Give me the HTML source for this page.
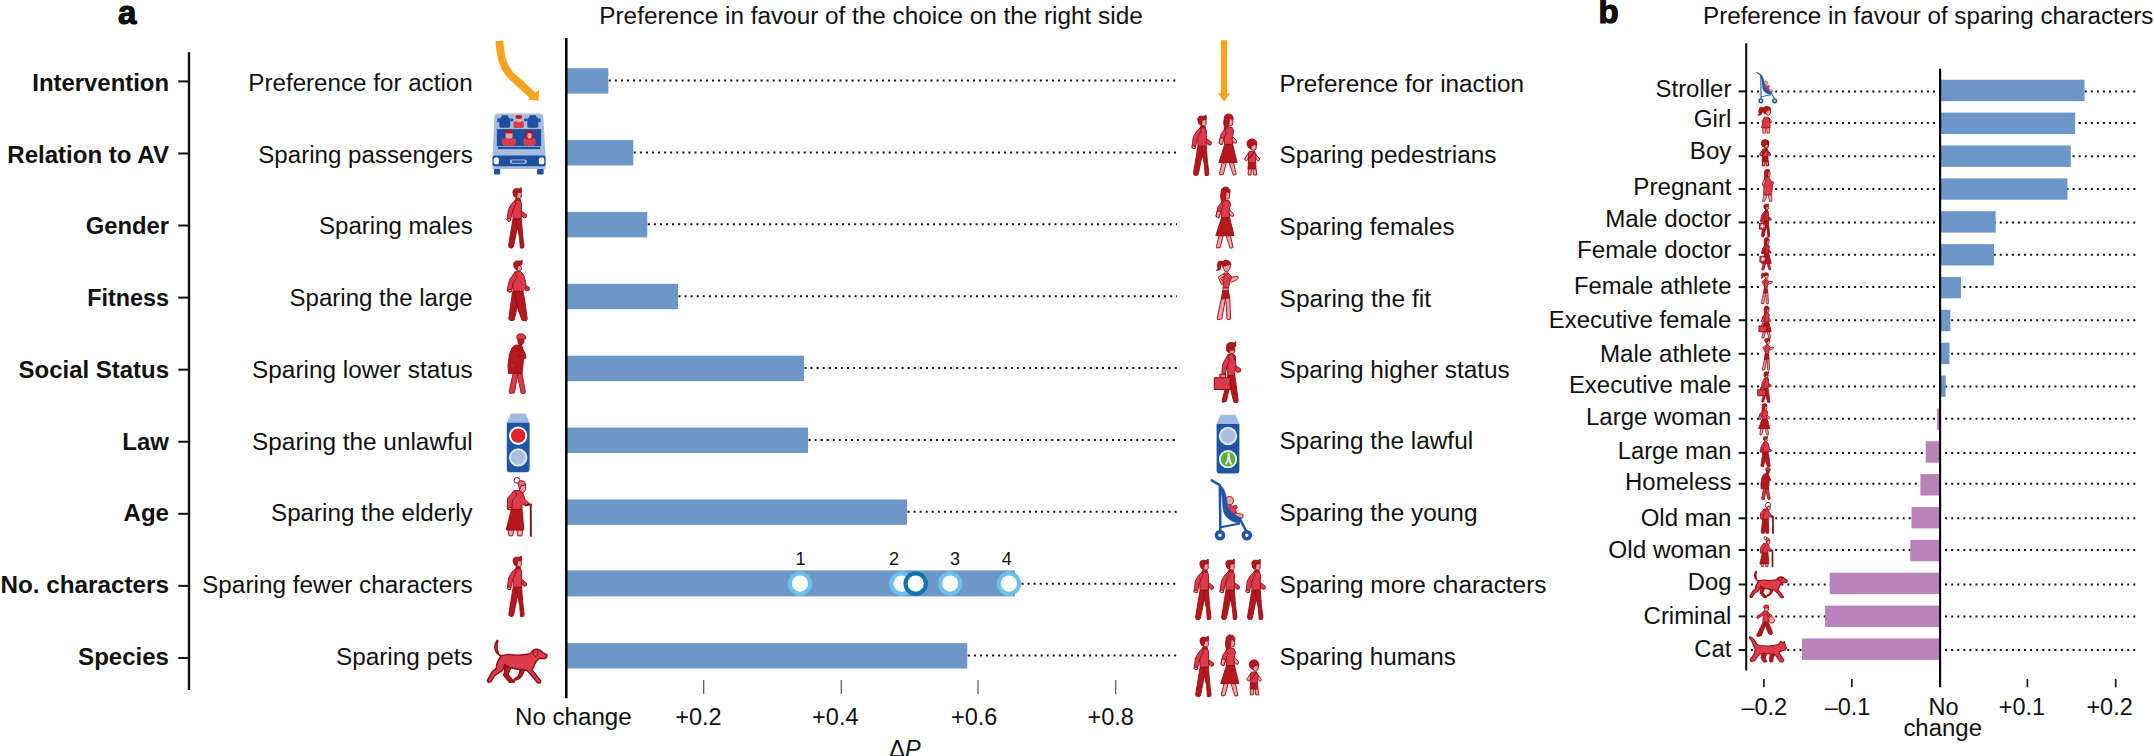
<!DOCTYPE html>
<html lang="en"><head><meta charset="utf-8"><title>Moral Machine preferences</title>
<style>html,body{margin:0;padding:0;background:#fff;}body{width:2154px;height:756px;overflow:hidden;font-family:"Liberation Sans",sans-serif;}svg{display:block}</style>
</head><body>
<svg width="2154" height="756" viewBox="0 0 2154 756" font-family="'Liberation Sans', sans-serif" fill="#111111"><text x="118.0" y="24.0" font-size="33" font-weight="bold" stroke="#000" stroke-width="1.1" stroke-linejoin="round">a</text>
<text x="599.3" y="24.0" font-size="23.5" textLength="543.4" lengthAdjust="spacingAndGlyphs">Preference in favour of the choice on the right side</text>
<rect x="567" y="68.20" width="41.30" height="25.4" fill="#6D97C8"/>
<line x1="608.80" y1="80.60" x2="1177.00" y2="80.60" stroke="#111" stroke-width="2" stroke-dasharray="2 4.07"/>
<line x1="178.3" y1="81.40" x2="189" y2="81.40" stroke="#111" stroke-width="2"/>
<text x="169.0" y="91.0" font-size="23.5" text-anchor="end" font-weight="bold" textLength="136.7" lengthAdjust="spacingAndGlyphs">Intervention</text>
<text x="472.7" y="91.0" font-size="23.5" text-anchor="end" textLength="224.4" lengthAdjust="spacingAndGlyphs">Preference for action</text>
<text x="1279.5" y="91.8" font-size="23.5" textLength="244.4" lengthAdjust="spacingAndGlyphs">Preference for inaction</text>
<rect x="567" y="140.07" width="66.30" height="25.4" fill="#6D97C8"/>
<line x1="633.80" y1="152.47" x2="1177.00" y2="152.47" stroke="#111" stroke-width="2" stroke-dasharray="2 4.07"/>
<line x1="178.3" y1="153.47" x2="189" y2="153.47" stroke="#111" stroke-width="2"/>
<text x="169.0" y="162.7" font-size="23.5" text-anchor="end" font-weight="bold" textLength="161.7" lengthAdjust="spacingAndGlyphs">Relation to AV</text>
<text x="472.7" y="162.7" font-size="23.5" text-anchor="end" textLength="214.4" lengthAdjust="spacingAndGlyphs">Sparing passengers</text>
<text x="1279.5" y="163.4" font-size="23.5" textLength="217.0" lengthAdjust="spacingAndGlyphs">Sparing pedestrians</text>
<rect x="567" y="211.94" width="80.30" height="25.4" fill="#6D97C8"/>
<line x1="647.80" y1="224.34" x2="1177.00" y2="224.34" stroke="#111" stroke-width="2" stroke-dasharray="2 4.07"/>
<line x1="178.3" y1="225.54" x2="189" y2="225.54" stroke="#111" stroke-width="2"/>
<text x="169.0" y="234.4" font-size="23.5" text-anchor="end" font-weight="bold" textLength="83.3" lengthAdjust="spacingAndGlyphs">Gender</text>
<text x="472.7" y="234.4" font-size="23.5" text-anchor="end" textLength="153.7" lengthAdjust="spacingAndGlyphs">Sparing males</text>
<text x="1279.5" y="235.0" font-size="23.5" textLength="175.0" lengthAdjust="spacingAndGlyphs">Sparing females</text>
<rect x="567" y="283.81" width="111.00" height="25.4" fill="#6D97C8"/>
<line x1="678.50" y1="296.21" x2="1177.00" y2="296.21" stroke="#111" stroke-width="2" stroke-dasharray="2 4.07"/>
<line x1="178.3" y1="297.61" x2="189" y2="297.61" stroke="#111" stroke-width="2"/>
<text x="169.0" y="306.1" font-size="23.5" text-anchor="end" font-weight="bold" textLength="81.8" lengthAdjust="spacingAndGlyphs">Fitness</text>
<text x="472.7" y="306.1" font-size="23.5" text-anchor="end" textLength="183.2" lengthAdjust="spacingAndGlyphs">Sparing the large</text>
<text x="1279.5" y="306.5" font-size="23.5" textLength="151.6" lengthAdjust="spacingAndGlyphs">Sparing the fit</text>
<rect x="567" y="355.68" width="237.00" height="25.4" fill="#6D97C8"/>
<line x1="804.50" y1="368.08" x2="1177.00" y2="368.08" stroke="#111" stroke-width="2" stroke-dasharray="2 4.07"/>
<line x1="178.3" y1="369.68" x2="189" y2="369.68" stroke="#111" stroke-width="2"/>
<text x="169.0" y="377.8" font-size="23.5" text-anchor="end" font-weight="bold" textLength="150.4" lengthAdjust="spacingAndGlyphs">Social Status</text>
<text x="472.7" y="377.8" font-size="23.5" text-anchor="end" textLength="220.6" lengthAdjust="spacingAndGlyphs">Sparing lower status</text>
<text x="1279.5" y="378.1" font-size="23.5" textLength="230.3" lengthAdjust="spacingAndGlyphs">Sparing higher status</text>
<rect x="567" y="427.55" width="241.00" height="25.4" fill="#6D97C8"/>
<line x1="808.50" y1="439.95" x2="1177.00" y2="439.95" stroke="#111" stroke-width="2" stroke-dasharray="2 4.07"/>
<line x1="178.3" y1="441.75" x2="189" y2="441.75" stroke="#111" stroke-width="2"/>
<text x="169.0" y="449.5" font-size="23.5" text-anchor="end" font-weight="bold" textLength="46.7" lengthAdjust="spacingAndGlyphs">Law</text>
<text x="472.7" y="449.5" font-size="23.5" text-anchor="end" textLength="220.6" lengthAdjust="spacingAndGlyphs">Sparing the unlawful</text>
<text x="1279.5" y="448.8" font-size="23.5" textLength="193.6" lengthAdjust="spacingAndGlyphs">Sparing the lawful</text>
<rect x="567" y="499.42" width="340.00" height="25.4" fill="#6D97C8"/>
<line x1="907.50" y1="511.82" x2="1177.00" y2="511.82" stroke="#111" stroke-width="2" stroke-dasharray="2 4.07"/>
<line x1="178.3" y1="513.82" x2="189" y2="513.82" stroke="#111" stroke-width="2"/>
<text x="169.0" y="521.2" font-size="23.5" text-anchor="end" font-weight="bold" textLength="45.4" lengthAdjust="spacingAndGlyphs">Age</text>
<text x="472.7" y="521.2" font-size="23.5" text-anchor="end" textLength="201.7" lengthAdjust="spacingAndGlyphs">Sparing the elderly</text>
<text x="1279.5" y="521.0" font-size="23.5" textLength="198.0" lengthAdjust="spacingAndGlyphs">Sparing the young</text>
<rect x="567" y="570.4" width="447.90" height="26" fill="#6D97C8"/>
<line x1="1021.50" y1="583.69" x2="1177.00" y2="583.69" stroke="#111" stroke-width="2" stroke-dasharray="2 4.07"/>
<line x1="178.3" y1="585.89" x2="189" y2="585.89" stroke="#111" stroke-width="2"/>
<text x="169.0" y="592.9" font-size="23.5" text-anchor="end" font-weight="bold" textLength="168.5" lengthAdjust="spacingAndGlyphs">No. characters</text>
<text x="472.7" y="592.9" font-size="23.5" text-anchor="end" textLength="270.6" lengthAdjust="spacingAndGlyphs">Sparing fewer characters</text>
<text x="1279.5" y="593.3" font-size="23.5" textLength="267.0" lengthAdjust="spacingAndGlyphs">Sparing more characters</text>
<rect x="567" y="643.16" width="400.30" height="25.4" fill="#6D97C8"/>
<line x1="967.80" y1="655.56" x2="1177.00" y2="655.56" stroke="#111" stroke-width="2" stroke-dasharray="2 4.07"/>
<line x1="178.3" y1="657.96" x2="189" y2="657.96" stroke="#111" stroke-width="2"/>
<text x="169.0" y="664.6" font-size="23.5" text-anchor="end" font-weight="bold" textLength="90.9" lengthAdjust="spacingAndGlyphs">Species</text>
<text x="472.7" y="664.6" font-size="23.5" text-anchor="end" textLength="136.8" lengthAdjust="spacingAndGlyphs">Sparing pets</text>
<text x="1279.5" y="664.5" font-size="23.5" textLength="176.4" lengthAdjust="spacingAndGlyphs">Sparing humans</text>
<line x1="189" y1="52.3" x2="189" y2="690" stroke="#111" stroke-width="2.4"/>
<line x1="566.3" y1="38" x2="566.3" y2="698.3" stroke="#000" stroke-width="2.5"/>
<line x1="703.7" y1="680" x2="703.7" y2="694" stroke="#555" stroke-width="1.2"/>
<line x1="841.3" y1="680" x2="841.3" y2="694" stroke="#555" stroke-width="1.2"/>
<line x1="978" y1="680" x2="978" y2="694" stroke="#555" stroke-width="1.2"/>
<line x1="1115.7" y1="680" x2="1115.7" y2="694" stroke="#555" stroke-width="1.2"/>
<text x="515.0" y="725.0" font-size="23.5" textLength="116.7" lengthAdjust="spacingAndGlyphs">No change</text>
<text x="698.5" y="725.0" font-size="23.5" text-anchor="middle">+0.2</text>
<text x="835.3" y="725.0" font-size="23.5" text-anchor="middle">+0.4</text>
<text x="974.2" y="725.0" font-size="23.5" text-anchor="middle">+0.6</text>
<text x="1110.7" y="725.0" font-size="23.5" text-anchor="middle">+0.8</text>
<text x="889.3" y="757" font-size="23.5">Δ<tspan font-style="italic">P</tspan></text>
<circle cx="800" cy="583.6" r="10.2" fill="#fff" stroke="#6CC0EA" stroke-width="4.2"/>
<circle cx="901.6" cy="583.6" r="10.2" fill="#fff" stroke="#6CC0EA" stroke-width="4.2"/>
<circle cx="950.1" cy="583.6" r="10.2" fill="#fff" stroke="#6CC0EA" stroke-width="4.2"/>
<circle cx="1008.9" cy="583.6" r="10.2" fill="#fff" stroke="#6CC0EA" stroke-width="4.2"/>
<circle cx="915.7" cy="583.6" r="10.2" fill="#fff" stroke="#0F74B0" stroke-width="4.2"/>
<text x="800.4" y="564.8" font-size="18" text-anchor="middle">1</text>
<text x="894.1" y="564.8" font-size="18" text-anchor="middle">2</text>
<text x="955.0" y="564.8" font-size="18" text-anchor="middle">3</text>
<text x="1006.8" y="564.8" font-size="18" text-anchor="middle">4</text>
<path d="M499.4,40.9 C500.3,58 503.5,70 515.7,79.8 L533,95.6" fill="none" stroke="#F9A21C" stroke-width="7.8"/>
<path d="M539,89.8 L538.7,100.8 L527.8,99.6 Z" fill="#F9A21C"/>
<rect x="1220.9" y="40.2" width="6.2" height="54" fill="#F9A21C"/>
<path d="M1218,93.6 L1230.2,93.6 L1224.1,101.6 Z" fill="#F9A21C"/>
<g transform="translate(492.10,113.20) scale(1.0)"><path d="M5.24,0.29 Q2.38,0.67 2.19,5.24 L0.48,42.38 L0.48,55.71 L53.43,55.71 L53.43,42.38 L51.33,5.24 Q51.14,0.67 48.29,0.29 Z" fill="#A6BDE1"/><rect x="7.14" y="4.29" width="10.95" height="10.29" rx="1.71" fill="#1E4F9E"/><rect x="9.24" y="2.00" width="6.95" height="5.14" rx="1.33" fill="#1E4F9E"/><rect x="35.24" y="4.29" width="10.95" height="10.29" rx="1.71" fill="#1E4F9E"/><rect x="37.24" y="2.00" width="7.05" height="5.14" rx="1.33" fill="#1E4F9E"/><rect x="5.05" y="5.24" width="2.10" height="3.81" rx="0.38" fill="#1E4F9E"/><rect x="46.19" y="5.24" width="2.29" height="3.81" rx="0.38" fill="#1E4F9E"/><rect x="18.38" y="5.24" width="2.67" height="2.86" rx="0.29" fill="#1E4F9E"/><rect x="32.10" y="5.24" width="2.86" height="2.86" rx="0.29" fill="#1E4F9E"/><rect x="21.43" y="8.10" width="10.29" height="6.67" rx="1.52" fill="#DB3B4B"/><rect x="23.90" y="2.38" width="5.52" height="6.67" rx="1.90" fill="#F3A2A7"/><rect x="23.52" y="2.00" width="6.29" height="3.43" rx="1.33" fill="#B4171C"/><rect x="4.76" y="15.90" width="44.29" height="16.95" rx="0.00" fill="#1E4F9E"/><rect x="10.00" y="25.05" width="13.90" height="7.43" rx="2.10" fill="#DB3B4B"/><rect x="13.43" y="17.62" width="7.05" height="7.62" rx="2.29" fill="#F3A2A7"/><rect x="13.05" y="16.86" width="7.81" height="3.43" rx="1.14" fill="#B4171C"/><rect x="31.33" y="25.05" width="12.19" height="7.43" rx="2.10" fill="#DB3B4B"/><rect x="33.62" y="17.24" width="7.62" height="8.95" rx="2.86" fill="#B4171C"/><rect x="35.33" y="19.71" width="4.19" height="5.71" rx="1.71" fill="#F3A2A7"/><rect x="5.71" y="33.62" width="42.38" height="2.29" rx="0.00" fill="#1E4F9E"/><rect x="0.48" y="42.19" width="52.95" height="10.86" rx="2.10" fill="#1E4F9E"/><rect x="1.62" y="44.29" width="5.14" height="6.86" rx="1.90" fill="#F2F5FA"/><rect x="46.76" y="44.29" width="5.33" height="6.86" rx="1.90" fill="#F2F5FA"/><rect x="17.81" y="46.19" width="16.95" height="4.38" rx="2.10" fill="#A6BDE1"/><rect x="19.71" y="47.33" width="13.14" height="2.10" rx="0.95" fill="#1E4F9E"/><rect x="1.90" y="55.71" width="6.19" height="5.71" rx="0.76" fill="#1E4F9E"/><rect x="45.05" y="55.71" width="6.48" height="5.71" rx="0.76" fill="#1E4F9E"/></g>
<g transform="translate(506.80,413.50)"><path d="M4,0 L18.8,0 L22.8,9.4 L0,9.4 Z" fill="#9FB9E0"/><path d="M0,9.3 L22.8,9.3 L22.8,55.5 Q22.8,58.8 19.5,58.8 L3.3,58.8 Q0,58.8 0,55.5 Z" fill="#1F55A2"/><circle cx="11.4" cy="22.2" r="8.2" fill="#E0242B" stroke="#fff" stroke-width="2"/><circle cx="11.4" cy="44" r="8.2" fill="#A9BEE0" stroke="#DCE5F3" stroke-width="2"/></g>
<g transform="translate(1216.60,414.70)"><path d="M4,0 L18.8,0 L22.8,9.4 L0,9.4 Z" fill="#9FB9E0"/><path d="M0,9.3 L22.8,9.3 L22.8,55.5 Q22.8,58.8 19.5,58.8 L3.3,58.8 Q0,58.8 0,55.5 Z" fill="#1F55A2"/><circle cx="11.4" cy="21.2" r="8.2" fill="#A9BEE0" stroke="#DCE5F3" stroke-width="2"/><circle cx="11.4" cy="44.5" r="8.2" fill="#5BAA3C" stroke="#E6F2DF" stroke-width="1.8"/><circle cx="12" cy="39.8" r="1.5" fill="#fff"/><path d="M11,41.5 L13.4,41.5 L13.8,45 L15.6,49.6 L14,50 L12,46.4 L10,50 L8.4,49.4 L10.4,45 Z" fill="#fff"/></g>
<g transform="translate(506.80,187.50) scale(1.0000)"><path d="M6.15,31.55 L12.30,31.55 L6.55,59.52 L5.16,60.71 L2.38,60.12 L1.79,58.13 Z" fill="#B4171C" stroke="#930C12" stroke-width="0.90" stroke-linejoin="round" /><path d="M9.33,31.55 L14.58,31.25 L15.67,45.63 L17.16,58.53 L16.37,60.62 L13.49,60.62 L12.70,49.60 L10.52,39.68 Z" fill="#B4171C" stroke="#930C12" stroke-width="0.90" stroke-linejoin="round" /><path d="M8.33,13.10 L13.59,12.50 L14.68,16.07 L14.68,30.95 L6.15,31.35 L5.95,22.82 Z" fill="#DB3B4B" stroke="#930C12" stroke-width="0.90" stroke-linejoin="round" /><path d="M8.33,13.10 L4.96,16.07 L1.59,22.02 L0.20,32.54 L1.39,33.73 L3.57,33.33 L5.95,22.82 L9.13,16.07 Z" fill="#DB3B4B" stroke="#930C12" stroke-width="0.90" stroke-linejoin="round" /><path d="M0.20,32.14 L1.59,33.73 L3.57,33.33 L3.77,31.55 L0.79,30.95 Z" fill="#F3A2A7" stroke="#930C12" stroke-width="0.90" stroke-linejoin="round" /><path d="M14.68,23.61 L19.64,27.18 L19.44,29.76 L17.06,30.36 L14.68,27.98 Z" fill="#DB3B4B" stroke="#930C12" stroke-width="0.90" stroke-linejoin="round" /><path d="M9.13,10.32 L13.10,10.32 L13.69,12.90 L8.13,13.29 Z" fill="#B4171C" stroke="#930C12" stroke-width="0.50" stroke-linejoin="round" /><path d="M6.55,2.48 L8.33,1.29 L12.90,1.29 L14.29,0.00 L14.68,3.17 L14.29,4.96 L10.52,4.96 L9.92,9.92 L7.34,9.13 L6.05,4.96 Z" fill="#B4171C" stroke="#930C12" stroke-width="0.90" stroke-linejoin="round" /><path d="M10.52,4.96 L14.29,4.76 L14.48,9.52 L12.90,10.91 L9.92,10.71 L9.92,9.92 Z" fill="#F3A2A7" stroke="#930C12" stroke-width="0.90" stroke-linejoin="round" /></g>
<g transform="translate(506.70,260.10) scale(1.0000)"><path d="M6.02,31.20 L13.89,31.20 L7.59,59.72 L6.48,60.46 L3.33,60.28 L2.04,58.80 L4.26,43.06 Z" fill="#B4171C" stroke="#930C12" stroke-width="0.90" stroke-linejoin="round" /><path d="M7.59,31.20 L16.20,31.02 L17.78,38.43 L20.56,58.80 L19.63,60.65 L15.37,60.28 L11.48,49.54 Z" fill="#B4171C" stroke="#930C12" stroke-width="0.90" stroke-linejoin="round" /><path d="M8.33,11.76 L13.89,11.39 L16.85,14.54 L19.07,22.69 L18.70,28.24 L15.93,31.20 L6.48,31.20 L6.02,25.46 L6.94,18.98 Z" fill="#DB3B4B" stroke="#930C12" stroke-width="0.90" stroke-linejoin="round" /><path d="M8.33,11.76 L2.78,19.91 L0.37,30.65 L3.15,32.13 L4.81,31.20 L6.48,22.69 L10.37,17.13 Z" fill="#DB3B4B" stroke="#930C12" stroke-width="0.90" stroke-linejoin="round" /><path d="M0.56,29.91 L3.15,32.13 L5.00,31.20 L4.81,29.35 Z" fill="#F3A2A7" stroke="#930C12" stroke-width="0.90" stroke-linejoin="round" /><path d="M18.98,25.28 L22.78,27.31 L22.41,30.09 L19.07,30.65 Z" fill="#DB3B4B" stroke="#930C12" stroke-width="0.90" stroke-linejoin="round" /><path d="M7.87,1.85 L9.72,0.93 L13.89,0.93 L15.37,0.00 L15.37,3.80 L13.89,5.09 L11.11,5.65 L10.19,9.72 L7.59,7.87 L6.94,4.17 Z" fill="#B4171C" stroke="#930C12" stroke-width="0.90" stroke-linejoin="round" /><path d="M11.11,5.65 L13.89,5.09 L15.00,8.80 L13.15,10.83 L10.19,10.83 L10.19,9.72 Z" fill="#F3A2A7" stroke="#930C12" stroke-width="0.90" stroke-linejoin="round" /></g>
<g transform="translate(507.80,333.60) scale(1.0000)"><path d="M5.37,39.44 L10.19,38.70 L6.67,59.26 L2.22,59.81 L1.30,58.33 Z" fill="#DB3B4B" stroke="#930C12" stroke-width="0.90" stroke-linejoin="round" /><path d="M9.07,39.44 L14.26,40.56 L17.59,58.33 L16.67,60.28 L13.33,59.44 Z" fill="#DB3B4B" stroke="#930C12" stroke-width="0.90" stroke-linejoin="round" /><path d="M10.00,5.74 L16.11,5.37 L15.93,9.26 L13.89,11.30 L10.56,10.37 Z" fill="#B4171C" stroke="#930C12" stroke-width="0.90" stroke-linejoin="round" /><path d="M9.54,1.48 L11.85,0.19 L15.56,0.46 L17.50,2.41 L17.96,5.19 L10.00,5.83 L8.89,4.63 Z" fill="#DB3B4B" stroke="#930C12" stroke-width="0.90" stroke-linejoin="round" /><path d="M7.22,11.67 L13.70,11.11 L15.19,15.74 L17.96,21.30 L17.96,24.63 L15.56,25.56 L15.19,31.48 L14.26,40.74 L10.00,39.07 L5.37,40.00 L0.74,40.00 L0.19,31.48 L1.67,20.37 L4.07,14.44 Z" fill="#B4171C" stroke="#930C12" stroke-width="0.90" stroke-linejoin="round" /><path d="M10.00,22.22 L12.78,21.30 L12.41,24.07" fill="none" stroke="#930C12" stroke-width="0.80" stroke-linejoin="round" /><path d="M3.70,31.48 L5.37,31.85 L4.26,33.70 Z" fill="#F3A2A7" stroke="#930C12" stroke-width="0.50" stroke-linejoin="round" /></g>
<g transform="translate(506.20,477.10) scale(1.0000)"><path d="M1.94,52.78 L7.50,52.78 L6.57,58.80 L2.87,58.80 Z" fill="#F3A2A7" stroke="#930C12" stroke-width="0.90" stroke-linejoin="round" /><path d="M10.65,52.78 L16.20,52.78 L15.83,58.80 L11.57,58.80 Z" fill="#F3A2A7" stroke="#930C12" stroke-width="0.90" stroke-linejoin="round" /><path d="M5.09,32.41 L15.83,31.94 L17.69,52.87 L0.00,52.87 Z" fill="#B4171C" stroke="#930C12" stroke-width="0.90" stroke-linejoin="round" /><path d="M7.87,13.43 L13.43,13.43 L16.76,16.20 L18.98,22.69 L23.80,26.94 L19.17,28.80 L15.83,26.39 L15.83,32.13 L5.09,32.50 L6.02,23.61 Z" fill="#DB3B4B" stroke="#930C12" stroke-width="0.90" stroke-linejoin="round" /><path d="M7.87,13.43 L1.39,21.39 L1.02,31.94 L3.80,32.96 L5.65,31.94 L6.02,23.61 L10.83,18.06 Z" fill="#DB3B4B" stroke="#930C12" stroke-width="0.90" stroke-linejoin="round" /><path d="M1.20,31.20 L3.80,32.96 L5.65,31.94 L5.28,30.46 Z" fill="#F3A2A7" stroke="#930C12" stroke-width="0.90" stroke-linejoin="round" /><path d="M11.57,6.20 L14.35,3.43 L18.06,4.17 L19.54,7.87 L14.54,8.98 L13.61,12.69 Z" fill="#E2677A" stroke="#930C12" stroke-width="0.90" stroke-linejoin="round" /><path d="M14.54,8.98 L19.17,7.87 L19.54,12.50 L17.13,15.83 L13.43,13.61 Z" fill="#F3A2A7" stroke="#930C12" stroke-width="0.90" stroke-linejoin="round" /><circle cx="10.65" cy="3.24" r="2.78" fill="#FFFFFF" stroke="#930C12" stroke-width="1.00"/><path d="M18.98,28.06 L25.65,27.31" fill="none" stroke="#7A1216" stroke-width="1.90" stroke-linejoin="round" /><path d="M24.54,27.31 L24.72,59.72" fill="none" stroke="#7A1216" stroke-width="1.90" stroke-linejoin="round" /></g>
<g transform="translate(507.00,555.90) scale(1.0000)"><path d="M6.15,31.55 L12.30,31.55 L6.55,59.52 L5.16,60.71 L2.38,60.12 L1.79,58.13 Z" fill="#B4171C" stroke="#930C12" stroke-width="0.90" stroke-linejoin="round" /><path d="M9.33,31.55 L14.58,31.25 L15.67,45.63 L17.16,58.53 L16.37,60.62 L13.49,60.62 L12.70,49.60 L10.52,39.68 Z" fill="#B4171C" stroke="#930C12" stroke-width="0.90" stroke-linejoin="round" /><path d="M8.33,13.10 L13.59,12.50 L14.68,16.07 L14.68,30.95 L6.15,31.35 L5.95,22.82 Z" fill="#DB3B4B" stroke="#930C12" stroke-width="0.90" stroke-linejoin="round" /><path d="M8.33,13.10 L4.96,16.07 L1.59,22.02 L0.20,32.54 L1.39,33.73 L3.57,33.33 L5.95,22.82 L9.13,16.07 Z" fill="#DB3B4B" stroke="#930C12" stroke-width="0.90" stroke-linejoin="round" /><path d="M0.20,32.14 L1.59,33.73 L3.57,33.33 L3.77,31.55 L0.79,30.95 Z" fill="#F3A2A7" stroke="#930C12" stroke-width="0.90" stroke-linejoin="round" /><path d="M14.68,23.61 L19.64,27.18 L19.44,29.76 L17.06,30.36 L14.68,27.98 Z" fill="#DB3B4B" stroke="#930C12" stroke-width="0.90" stroke-linejoin="round" /><path d="M9.13,10.32 L13.10,10.32 L13.69,12.90 L8.13,13.29 Z" fill="#B4171C" stroke="#930C12" stroke-width="0.50" stroke-linejoin="round" /><path d="M6.55,2.48 L8.33,1.29 L12.90,1.29 L14.29,0.00 L14.68,3.17 L14.29,4.96 L10.52,4.96 L9.92,9.92 L7.34,9.13 L6.05,4.96 Z" fill="#B4171C" stroke="#930C12" stroke-width="0.90" stroke-linejoin="round" /><path d="M10.52,4.96 L14.29,4.76 L14.48,9.52 L12.90,10.91 L9.92,10.71 L9.92,9.92 Z" fill="#F3A2A7" stroke="#930C12" stroke-width="0.90" stroke-linejoin="round" /></g>
<g transform="translate(487.30,640.10) scale(1.0000)"><path d="M 17.45,24.00 L 24.00,27.64 C 21.82,31.27 20.73,33.45 21.09,34.76 L 25.60,40.15 L 25.31,42.18 L 22.11,42.33 L 16.15,35.05 C 17.82,31.27 17.45,27.64 16.73,24.73 Z" fill="#B4171C" stroke="#930C12" stroke-width="1.12" stroke-linejoin="round" /><path d="M 32.00,29.09 L 37.09,30.11 C 35.64,34.18 34.18,37.09 32.00,38.55 L 27.49,40.44 L 26.91,42.33 L 25.60,41.45 L 26.91,38.98 C 30.55,37.09 32.36,34.18 32.58,31.27 Z" fill="#B4171C" stroke="#930C12" stroke-width="1.12" stroke-linejoin="round" /><path d="M 10.04,0.15 C 6.40,4.36 6.25,11.05 11.78,14.84 C 14.55,16.44 16.73,14.40 21.82,14.25 C 26.91,15.27 33.45,15.64 42.91,13.67 C 44.73,10.55 46.91,8.73 50.18,9.16 C 53.09,9.82 54.55,11.27 56.00,12.80 L 59.64,14.69 C 60.36,16.73 58.55,18.55 56.73,18.62 L 52.51,18.18 C 50.18,18.91 48.15,21.67 46.69,26.18 L 44.65,29.67 L 53.53,40.73 L 53.09,42.62 L 50.18,42.62 L 43.64,34.62 L 39.27,30.25 C 34.91,29.82 27.64,28.51 23.27,27.64 L 17.31,24.15 C 16.73,26.91 15.27,30.55 13.67,31.42 L 7.27,35.64 L 3.64,41.60 L 1.02,42.33 L 0.00,40.44 L 5.09,31.27 L 8.87,28.51 C 9.09,24.00 10.91,19.64 13.53,16.44 C 9.89,13.96 8.87,7.27 10.62,0.58 Z" fill="#DB3B4B" stroke="#930C12" stroke-width="1.38" stroke-linejoin="round" /><path d="M 46.55,10.55 C 45.09,13.09 45.82,16.00 48.73,16.73 C 50.55,15.27 50.91,12.36 50.18,10.55" fill="none" stroke="#930C12" stroke-width="1.00" stroke-linejoin="round" /></g>
<g transform="translate(1191.70,114.90) scale(1.0000)"><path d="M6.15,31.55 L12.30,31.55 L6.55,59.52 L5.16,60.71 L2.38,60.12 L1.79,58.13 Z" fill="#B4171C" stroke="#930C12" stroke-width="0.90" stroke-linejoin="round" /><path d="M9.33,31.55 L14.58,31.25 L15.67,45.63 L17.16,58.53 L16.37,60.62 L13.49,60.62 L12.70,49.60 L10.52,39.68 Z" fill="#B4171C" stroke="#930C12" stroke-width="0.90" stroke-linejoin="round" /><path d="M8.33,13.10 L13.59,12.50 L14.68,16.07 L14.68,30.95 L6.15,31.35 L5.95,22.82 Z" fill="#DB3B4B" stroke="#930C12" stroke-width="0.90" stroke-linejoin="round" /><path d="M8.33,13.10 L4.96,16.07 L1.59,22.02 L0.20,32.54 L1.39,33.73 L3.57,33.33 L5.95,22.82 L9.13,16.07 Z" fill="#DB3B4B" stroke="#930C12" stroke-width="0.90" stroke-linejoin="round" /><path d="M0.20,32.14 L1.59,33.73 L3.57,33.33 L3.77,31.55 L0.79,30.95 Z" fill="#F3A2A7" stroke="#930C12" stroke-width="0.90" stroke-linejoin="round" /><path d="M14.68,23.61 L19.64,27.18 L19.44,29.76 L17.06,30.36 L14.68,27.98 Z" fill="#DB3B4B" stroke="#930C12" stroke-width="0.90" stroke-linejoin="round" /><path d="M9.13,10.32 L13.10,10.32 L13.69,12.90 L8.13,13.29 Z" fill="#B4171C" stroke="#930C12" stroke-width="0.50" stroke-linejoin="round" /><path d="M6.55,2.48 L8.33,1.29 L12.90,1.29 L14.29,0.00 L14.68,3.17 L14.29,4.96 L10.52,4.96 L9.92,9.92 L7.34,9.13 L6.05,4.96 Z" fill="#B4171C" stroke="#930C12" stroke-width="0.90" stroke-linejoin="round" /><path d="M10.52,4.96 L14.29,4.76 L14.48,9.52 L12.90,10.91 L9.92,10.71 L9.92,9.92 Z" fill="#F3A2A7" stroke="#930C12" stroke-width="0.90" stroke-linejoin="round" /></g>
<g transform="translate(1218.70,113.70) scale(1.0000)"><path d="M3.47,49.01 L7.54,49.01 L4.56,60.71 L1.19,61.31 L0.79,59.72 Z" fill="#F3A2A7" stroke="#930C12" stroke-width="0.90" stroke-linejoin="round" /><path d="M10.52,49.01 L14.88,49.01 L17.46,60.71 L14.68,61.51 L12.90,56.75 Z" fill="#F3A2A7" stroke="#930C12" stroke-width="0.90" stroke-linejoin="round" /><path d="M5.95,30.95 L13.89,30.56 L18.45,48.81 L0.20,48.81 Z" fill="#B4171C" stroke="#930C12" stroke-width="0.90" stroke-linejoin="round" /><path d="M5.95,15.28 L9.92,13.49 L13.49,13.89 L15.08,17.26 L13.69,23.02 L13.89,30.56 L5.95,30.95 L5.36,24.01 Z" fill="#DB3B4B" stroke="#930C12" stroke-width="0.90" stroke-linejoin="round" /><path d="M5.95,15.58 L2.38,20.04 L0.40,29.56 L3.17,31.15 L5.56,24.01 L7.54,19.05 Z" fill="#DB3B4B" stroke="#930C12" stroke-width="0.90" stroke-linejoin="round" /><path d="M1.59,24.01 L0.40,29.56 L3.17,31.15 L5.16,25.00 Z" fill="#F3A2A7" stroke="#930C12" stroke-width="0.90" stroke-linejoin="round" /><path d="M13.69,22.82 L18.06,26.98 L17.46,29.56 L14.88,29.17 L13.49,26.19 Z" fill="#F3A2A7" stroke="#930C12" stroke-width="0.90" stroke-linejoin="round" /><path d="M5.95,2.18 L8.93,0.20 L12.50,0.69 L14.48,3.77 L14.09,7.14 L12.90,5.16 L10.52,5.16 L10.12,12.70 L5.95,15.28 L4.96,9.13 Z" fill="#B4171C" stroke="#930C12" stroke-width="0.90" stroke-linejoin="round" /><path d="M10.52,5.16 L12.90,5.16 L14.29,8.13 L13.49,11.71 L11.11,12.50 L10.12,11.51 Z" fill="#F3A2A7" stroke="#930C12" stroke-width="0.90" stroke-linejoin="round" /></g>
<g transform="translate(1244.30,138.20) scale(1.0000)"><path d="M4.17,30.26 L7.34,30.26 L6.85,36.81 L3.77,36.81 Z" fill="#F3A2A7" stroke="#930C12" stroke-width="0.90" stroke-linejoin="round" /><path d="M8.73,30.26 L11.71,30.26 L12.50,36.81 L9.33,36.81 Z" fill="#F3A2A7" stroke="#930C12" stroke-width="0.90" stroke-linejoin="round" /><path d="M4.17,24.31 L11.31,24.31 L11.71,30.65 L3.57,30.65 Z" fill="#B4171C" stroke="#930C12" stroke-width="0.90" stroke-linejoin="round" /><path d="M4.17,14.58 L0.20,20.83 L2.18,22.92 L4.76,19.35 Z" fill="#F3A2A7" stroke="#930C12" stroke-width="0.90" stroke-linejoin="round" /><path d="M11.51,16.37 L15.48,20.83 L14.09,22.92 L11.31,20.34 Z" fill="#F3A2A7" stroke="#930C12" stroke-width="0.90" stroke-linejoin="round" /><path d="M4.76,13.39 L10.12,12.90 L11.71,16.37 L11.31,24.50 L4.17,24.50 L4.17,16.37 Z" fill="#DB3B4B" stroke="#930C12" stroke-width="0.90" stroke-linejoin="round" /><path d="M10.12,13.39 L4.96,20.34" fill="none" stroke="#930C12" stroke-width="1.20" stroke-linejoin="round" /><circle cx="7.64" cy="5.65" r="4.96" fill="#B4171C" stroke="#930C12" stroke-width="0.90"/><path d="M6.55,8.43 L10.12,6.05 L12.10,7.44 L11.71,11.01 L9.52,12.20 L6.94,11.21 Z" fill="#F3A2A7" stroke="#930C12" stroke-width="0.90" stroke-linejoin="round" /></g>
<g transform="translate(1215.60,186.80) scale(1.0000)"><path d="M3.47,49.01 L7.54,49.01 L4.56,60.71 L1.19,61.31 L0.79,59.72 Z" fill="#F3A2A7" stroke="#930C12" stroke-width="0.90" stroke-linejoin="round" /><path d="M10.52,49.01 L14.88,49.01 L17.46,60.71 L14.68,61.51 L12.90,56.75 Z" fill="#F3A2A7" stroke="#930C12" stroke-width="0.90" stroke-linejoin="round" /><path d="M5.95,30.95 L13.89,30.56 L18.45,48.81 L0.20,48.81 Z" fill="#B4171C" stroke="#930C12" stroke-width="0.90" stroke-linejoin="round" /><path d="M5.95,15.28 L9.92,13.49 L13.49,13.89 L15.08,17.26 L13.69,23.02 L13.89,30.56 L5.95,30.95 L5.36,24.01 Z" fill="#DB3B4B" stroke="#930C12" stroke-width="0.90" stroke-linejoin="round" /><path d="M5.95,15.58 L2.38,20.04 L0.40,29.56 L3.17,31.15 L5.56,24.01 L7.54,19.05 Z" fill="#DB3B4B" stroke="#930C12" stroke-width="0.90" stroke-linejoin="round" /><path d="M1.59,24.01 L0.40,29.56 L3.17,31.15 L5.16,25.00 Z" fill="#F3A2A7" stroke="#930C12" stroke-width="0.90" stroke-linejoin="round" /><path d="M13.69,22.82 L18.06,26.98 L17.46,29.56 L14.88,29.17 L13.49,26.19 Z" fill="#F3A2A7" stroke="#930C12" stroke-width="0.90" stroke-linejoin="round" /><path d="M5.95,2.18 L8.93,0.20 L12.50,0.69 L14.48,3.77 L14.09,7.14 L12.90,5.16 L10.52,5.16 L10.12,12.70 L5.95,15.28 L4.96,9.13 Z" fill="#B4171C" stroke="#930C12" stroke-width="0.90" stroke-linejoin="round" /><path d="M10.52,5.16 L12.90,5.16 L14.29,8.13 L13.49,11.71 L11.11,12.50 L10.12,11.51 Z" fill="#F3A2A7" stroke="#930C12" stroke-width="0.90" stroke-linejoin="round" /></g>
<g transform="translate(1216.20,259.60) scale(1.0000)"><path d="M5.09,39.26 L9.35,38.89 L5.65,59.26 L1.57,60.19 L1.02,58.33 Z" fill="#F3A2A7" stroke="#930C12" stroke-width="0.90" stroke-linejoin="round" /><path d="M9.17,38.89 L13.43,37.96 L14.54,58.33 L13.61,60.19 L10.65,59.44 L10.28,47.22 Z" fill="#F3A2A7" stroke="#930C12" stroke-width="0.90" stroke-linejoin="round" /><path d="M6.48,31.02 L12.13,31.02 L13.61,37.96 L5.09,39.44 Z" fill="#B4171C" stroke="#930C12" stroke-width="0.90" stroke-linejoin="round" /><path d="M6.94,28.15 L12.04,28.15 L12.13,31.11 L6.57,31.11 Z" fill="#F3A2A7" stroke="#930C12" stroke-width="0.90" stroke-linejoin="round" /><path d="M6.57,14.44 L11.94,13.52 L15.83,17.59 L13.43,23.15 L12.13,28.33 L6.94,28.33 L6.94,23.15 Z" fill="#DB3B4B" stroke="#930C12" stroke-width="0.90" stroke-linejoin="round" /><path d="M6.57,14.44 L1.94,17.59 L5.65,25.19 L7.50,23.15 L4.72,18.52 L8.80,16.30 Z" fill="#F3A2A7" stroke="#930C12" stroke-width="0.90" stroke-linejoin="round" /><path d="M15.83,17.41 L19.35,16.85 L21.76,16.85 L21.94,18.70 L20.83,20.00 L15.28,22.78 L13.80,21.30 Z" fill="#F3A2A7" stroke="#930C12" stroke-width="0.90" stroke-linejoin="round" /><path d="M8.80,11.85 L11.57,12.41 L11.94,13.89 L8.06,14.26 Z" fill="#F3A2A7" stroke="#930C12" stroke-width="0.50" stroke-linejoin="round" /><path d="M6.02,1.85 L2.31,1.85 L1.02,5.56 L1.94,9.26 L0.09,10.74 L3.80,10.19 L4.72,5.56 Z" fill="#B4171C" stroke="#930C12" stroke-width="0.90" stroke-linejoin="round" /><path d="M5.65,2.41 L9.72,0.46 L13.43,1.85 L14.54,4.63 L6.02,7.04 Z" fill="#B4171C" stroke="#930C12" stroke-width="0.90" stroke-linejoin="round" /><path d="M6.57,6.67 L14.54,4.63 L13.61,9.26 L11.20,12.59 L8.43,11.30 Z" fill="#F3A2A7" stroke="#930C12" stroke-width="0.90" stroke-linejoin="round" /></g>
<g transform="translate(1213.90,341.60) scale(1.0000)"><path d="M13.89,33.80 L18.70,33.80 L12.22,59.81 L8.89,60.74 L8.15,58.89 L11.11,48.15 Z" fill="#B4171C" stroke="#930C12" stroke-width="0.90" stroke-linejoin="round" /><path d="M15.74,33.80 L20.93,33.33 L21.85,40.74 L24.26,59.26 L23.33,61.20 L20.00,60.74 L17.22,50.00 Z" fill="#B4171C" stroke="#930C12" stroke-width="0.90" stroke-linejoin="round" /><path d="M13.89,12.96 L18.52,12.04 L21.48,14.44 L21.85,25.00 L20.56,33.52 L13.89,33.98 L12.96,25.00 Z" fill="#DB3B4B" stroke="#930C12" stroke-width="0.90" stroke-linejoin="round" /><path d="M18.52,12.22 L21.48,14.44 L20.93,18.70 Z" fill="#B4171C" stroke="#930C12" stroke-width="0.50" stroke-linejoin="round" /><path d="M13.89,13.52 L8.89,22.22 L7.96,31.11 L11.11,32.50 L12.96,25.00 L15.93,18.52 Z" fill="#DB3B4B" stroke="#930C12" stroke-width="0.90" stroke-linejoin="round" /><path d="M21.85,24.07 L26.94,27.31 L26.48,30.19 L23.15,30.65 L21.30,28.33 Z" fill="#DB3B4B" stroke="#930C12" stroke-width="0.90" stroke-linejoin="round" /><path d="M12.96,2.78 L15.74,0.93 L20.37,1.39 L21.85,0.00 L21.85,4.63 L19.63,6.48 L15.93,7.41 L15.00,11.30 L12.59,9.26 Z" fill="#B4171C" stroke="#930C12" stroke-width="0.90" stroke-linejoin="round" /><path d="M15.93,7.41 L20.93,6.48 L20.74,10.74 L18.70,12.22 L15.37,11.30 Z" fill="#F3A2A7" stroke="#930C12" stroke-width="0.90" stroke-linejoin="round" /><path d="M16.30,7.96 L20.93,7.22 L20.93,8.70 L16.48,9.26 Z" fill="#B4171C" stroke="#930C12" stroke-width="0.30" stroke-linejoin="round" /><path d="M6.11,36.11 L6.11,32.59 L11.67,32.59 L11.67,36.11" fill="none" stroke="#930C12" stroke-width="1.30" stroke-linejoin="round" /><path d="M7.04,33.33 L10.37,33.33 L10.37,35.74 L7.04,35.74 Z" fill="#F3A2A7" stroke="#930C12" stroke-width="0.50" stroke-linejoin="round" /><path d="M0.46,36.11 L16.30,36.11 L16.30,47.96 L0.46,47.96 Z" fill="#DB3B4B" stroke="#930C12" stroke-width="1.10" stroke-linejoin="round" /></g>
<g transform="translate(1211.10,479.10) scale(1.0000)"><circle cx="18.33" cy="21.57" r="4.07" fill="#F3A2A7" stroke="#B4171C" stroke-width="1.00"/><path d="M17.78,26.02 L21.30,26.94 L25.56,26.39 L26.11,28.80 L24.44,30.28 L25.56,34.17 L20.00,34.54 L17.78,30.09 Z" fill="#DB3B4B" stroke="#B4171C" stroke-width="0.90" stroke-linejoin="round" /><path d="M24.07,33.80 L28.15,34.54 L32.04,35.46 L31.48,38.98 L27.78,39.17 L23.70,36.76 Z" fill="#F3A2A7" stroke="#B4171C" stroke-width="0.90" stroke-linejoin="round" /><path d="M 8.52,5.28 C 13.52,8.80 15.37,16.20 16.30,25.46 C 17.22,31.57 21.85,35.28 30.19,38.98 L 28.15,43.98 C 19.07,42.69 13.15,37.69 12.04,30.09 C 11.30,22.69 10.93,13.43 8.52,7.87 Z" fill="#1F55A2" stroke="#1F55A2" stroke-width="0.60" stroke-linejoin="round" /><path d="M0.56,1.20 L8.70,6.02 L9.26,51.39" fill="none" stroke="#1F55A2" stroke-width="2.50" stroke-linejoin="round" stroke-linecap="round" stroke-linejoin="round"/><path d="M28.89,40.28 L36.30,54.17" fill="none" stroke="#1F55A2" stroke-width="2.50" stroke-linejoin="round" /><path d="M9.44,48.24 L28.89,44.35" fill="none" stroke="#1F55A2" stroke-width="2.10" stroke-linejoin="round" /><circle cx="8.89" cy="56.20" r="3.52" fill="#FFFFFF" stroke="#1F55A2" stroke-width="3.60"/><circle cx="35.74" cy="56.20" r="3.52" fill="#FFFFFF" stroke="#1F55A2" stroke-width="3.60"/></g>
<g transform="translate(1193.80,559.00) scale(1.0000)"><path d="M6.15,31.55 L12.30,31.55 L6.55,59.52 L5.16,60.71 L2.38,60.12 L1.79,58.13 Z" fill="#B4171C" stroke="#930C12" stroke-width="0.90" stroke-linejoin="round" /><path d="M9.33,31.55 L14.58,31.25 L15.67,45.63 L17.16,58.53 L16.37,60.62 L13.49,60.62 L12.70,49.60 L10.52,39.68 Z" fill="#B4171C" stroke="#930C12" stroke-width="0.90" stroke-linejoin="round" /><path d="M8.33,13.10 L13.59,12.50 L14.68,16.07 L14.68,30.95 L6.15,31.35 L5.95,22.82 Z" fill="#DB3B4B" stroke="#930C12" stroke-width="0.90" stroke-linejoin="round" /><path d="M8.33,13.10 L4.96,16.07 L1.59,22.02 L0.20,32.54 L1.39,33.73 L3.57,33.33 L5.95,22.82 L9.13,16.07 Z" fill="#DB3B4B" stroke="#930C12" stroke-width="0.90" stroke-linejoin="round" /><path d="M0.20,32.14 L1.59,33.73 L3.57,33.33 L3.77,31.55 L0.79,30.95 Z" fill="#F3A2A7" stroke="#930C12" stroke-width="0.90" stroke-linejoin="round" /><path d="M14.68,23.61 L19.64,27.18 L19.44,29.76 L17.06,30.36 L14.68,27.98 Z" fill="#DB3B4B" stroke="#930C12" stroke-width="0.90" stroke-linejoin="round" /><path d="M9.13,10.32 L13.10,10.32 L13.69,12.90 L8.13,13.29 Z" fill="#B4171C" stroke="#930C12" stroke-width="0.50" stroke-linejoin="round" /><path d="M6.55,2.48 L8.33,1.29 L12.90,1.29 L14.29,0.00 L14.68,3.17 L14.29,4.96 L10.52,4.96 L9.92,9.92 L7.34,9.13 L6.05,4.96 Z" fill="#B4171C" stroke="#930C12" stroke-width="0.90" stroke-linejoin="round" /><path d="M10.52,4.96 L14.29,4.76 L14.48,9.52 L12.90,10.91 L9.92,10.71 L9.92,9.92 Z" fill="#F3A2A7" stroke="#930C12" stroke-width="0.90" stroke-linejoin="round" /></g>
<g transform="translate(1219.80,559.00) scale(1.0000)"><path d="M6.15,31.55 L12.30,31.55 L6.55,59.52 L5.16,60.71 L2.38,60.12 L1.79,58.13 Z" fill="#B4171C" stroke="#930C12" stroke-width="0.90" stroke-linejoin="round" /><path d="M9.33,31.55 L14.58,31.25 L15.67,45.63 L17.16,58.53 L16.37,60.62 L13.49,60.62 L12.70,49.60 L10.52,39.68 Z" fill="#B4171C" stroke="#930C12" stroke-width="0.90" stroke-linejoin="round" /><path d="M8.33,13.10 L13.59,12.50 L14.68,16.07 L14.68,30.95 L6.15,31.35 L5.95,22.82 Z" fill="#DB3B4B" stroke="#930C12" stroke-width="0.90" stroke-linejoin="round" /><path d="M8.33,13.10 L4.96,16.07 L1.59,22.02 L0.20,32.54 L1.39,33.73 L3.57,33.33 L5.95,22.82 L9.13,16.07 Z" fill="#DB3B4B" stroke="#930C12" stroke-width="0.90" stroke-linejoin="round" /><path d="M0.20,32.14 L1.59,33.73 L3.57,33.33 L3.77,31.55 L0.79,30.95 Z" fill="#F3A2A7" stroke="#930C12" stroke-width="0.90" stroke-linejoin="round" /><path d="M14.68,23.61 L19.64,27.18 L19.44,29.76 L17.06,30.36 L14.68,27.98 Z" fill="#DB3B4B" stroke="#930C12" stroke-width="0.90" stroke-linejoin="round" /><path d="M9.13,10.32 L13.10,10.32 L13.69,12.90 L8.13,13.29 Z" fill="#B4171C" stroke="#930C12" stroke-width="0.50" stroke-linejoin="round" /><path d="M6.55,2.48 L8.33,1.29 L12.90,1.29 L14.29,0.00 L14.68,3.17 L14.29,4.96 L10.52,4.96 L9.92,9.92 L7.34,9.13 L6.05,4.96 Z" fill="#B4171C" stroke="#930C12" stroke-width="0.90" stroke-linejoin="round" /><path d="M10.52,4.96 L14.29,4.76 L14.48,9.52 L12.90,10.91 L9.92,10.71 L9.92,9.92 Z" fill="#F3A2A7" stroke="#930C12" stroke-width="0.90" stroke-linejoin="round" /></g>
<g transform="translate(1245.70,559.00) scale(1.0000)"><path d="M6.15,31.55 L12.30,31.55 L6.55,59.52 L5.16,60.71 L2.38,60.12 L1.79,58.13 Z" fill="#B4171C" stroke="#930C12" stroke-width="0.90" stroke-linejoin="round" /><path d="M9.33,31.55 L14.58,31.25 L15.67,45.63 L17.16,58.53 L16.37,60.62 L13.49,60.62 L12.70,49.60 L10.52,39.68 Z" fill="#B4171C" stroke="#930C12" stroke-width="0.90" stroke-linejoin="round" /><path d="M8.33,13.10 L13.59,12.50 L14.68,16.07 L14.68,30.95 L6.15,31.35 L5.95,22.82 Z" fill="#DB3B4B" stroke="#930C12" stroke-width="0.90" stroke-linejoin="round" /><path d="M8.33,13.10 L4.96,16.07 L1.59,22.02 L0.20,32.54 L1.39,33.73 L3.57,33.33 L5.95,22.82 L9.13,16.07 Z" fill="#DB3B4B" stroke="#930C12" stroke-width="0.90" stroke-linejoin="round" /><path d="M0.20,32.14 L1.59,33.73 L3.57,33.33 L3.77,31.55 L0.79,30.95 Z" fill="#F3A2A7" stroke="#930C12" stroke-width="0.90" stroke-linejoin="round" /><path d="M14.68,23.61 L19.64,27.18 L19.44,29.76 L17.06,30.36 L14.68,27.98 Z" fill="#DB3B4B" stroke="#930C12" stroke-width="0.90" stroke-linejoin="round" /><path d="M9.13,10.32 L13.10,10.32 L13.69,12.90 L8.13,13.29 Z" fill="#B4171C" stroke="#930C12" stroke-width="0.50" stroke-linejoin="round" /><path d="M6.55,2.48 L8.33,1.29 L12.90,1.29 L14.29,0.00 L14.68,3.17 L14.29,4.96 L10.52,4.96 L9.92,9.92 L7.34,9.13 L6.05,4.96 Z" fill="#B4171C" stroke="#930C12" stroke-width="0.90" stroke-linejoin="round" /><path d="M10.52,4.96 L14.29,4.76 L14.48,9.52 L12.90,10.91 L9.92,10.71 L9.92,9.92 Z" fill="#F3A2A7" stroke="#930C12" stroke-width="0.90" stroke-linejoin="round" /></g>
<g transform="translate(1193.90,636.00) scale(1.0000)"><path d="M6.15,31.55 L12.30,31.55 L6.55,59.52 L5.16,60.71 L2.38,60.12 L1.79,58.13 Z" fill="#B4171C" stroke="#930C12" stroke-width="0.90" stroke-linejoin="round" /><path d="M9.33,31.55 L14.58,31.25 L15.67,45.63 L17.16,58.53 L16.37,60.62 L13.49,60.62 L12.70,49.60 L10.52,39.68 Z" fill="#B4171C" stroke="#930C12" stroke-width="0.90" stroke-linejoin="round" /><path d="M8.33,13.10 L13.59,12.50 L14.68,16.07 L14.68,30.95 L6.15,31.35 L5.95,22.82 Z" fill="#DB3B4B" stroke="#930C12" stroke-width="0.90" stroke-linejoin="round" /><path d="M8.33,13.10 L4.96,16.07 L1.59,22.02 L0.20,32.54 L1.39,33.73 L3.57,33.33 L5.95,22.82 L9.13,16.07 Z" fill="#DB3B4B" stroke="#930C12" stroke-width="0.90" stroke-linejoin="round" /><path d="M0.20,32.14 L1.59,33.73 L3.57,33.33 L3.77,31.55 L0.79,30.95 Z" fill="#F3A2A7" stroke="#930C12" stroke-width="0.90" stroke-linejoin="round" /><path d="M14.68,23.61 L19.64,27.18 L19.44,29.76 L17.06,30.36 L14.68,27.98 Z" fill="#DB3B4B" stroke="#930C12" stroke-width="0.90" stroke-linejoin="round" /><path d="M9.13,10.32 L13.10,10.32 L13.69,12.90 L8.13,13.29 Z" fill="#B4171C" stroke="#930C12" stroke-width="0.50" stroke-linejoin="round" /><path d="M6.55,2.48 L8.33,1.29 L12.90,1.29 L14.29,0.00 L14.68,3.17 L14.29,4.96 L10.52,4.96 L9.92,9.92 L7.34,9.13 L6.05,4.96 Z" fill="#B4171C" stroke="#930C12" stroke-width="0.90" stroke-linejoin="round" /><path d="M10.52,4.96 L14.29,4.76 L14.48,9.52 L12.90,10.91 L9.92,10.71 L9.92,9.92 Z" fill="#F3A2A7" stroke="#930C12" stroke-width="0.90" stroke-linejoin="round" /></g>
<g transform="translate(1220.50,634.70) scale(1.0000)"><path d="M3.47,49.01 L7.54,49.01 L4.56,60.71 L1.19,61.31 L0.79,59.72 Z" fill="#F3A2A7" stroke="#930C12" stroke-width="0.90" stroke-linejoin="round" /><path d="M10.52,49.01 L14.88,49.01 L17.46,60.71 L14.68,61.51 L12.90,56.75 Z" fill="#F3A2A7" stroke="#930C12" stroke-width="0.90" stroke-linejoin="round" /><path d="M5.95,30.95 L13.89,30.56 L18.45,48.81 L0.20,48.81 Z" fill="#B4171C" stroke="#930C12" stroke-width="0.90" stroke-linejoin="round" /><path d="M5.95,15.28 L9.92,13.49 L13.49,13.89 L15.08,17.26 L13.69,23.02 L13.89,30.56 L5.95,30.95 L5.36,24.01 Z" fill="#DB3B4B" stroke="#930C12" stroke-width="0.90" stroke-linejoin="round" /><path d="M5.95,15.58 L2.38,20.04 L0.40,29.56 L3.17,31.15 L5.56,24.01 L7.54,19.05 Z" fill="#DB3B4B" stroke="#930C12" stroke-width="0.90" stroke-linejoin="round" /><path d="M1.59,24.01 L0.40,29.56 L3.17,31.15 L5.16,25.00 Z" fill="#F3A2A7" stroke="#930C12" stroke-width="0.90" stroke-linejoin="round" /><path d="M13.69,22.82 L18.06,26.98 L17.46,29.56 L14.88,29.17 L13.49,26.19 Z" fill="#F3A2A7" stroke="#930C12" stroke-width="0.90" stroke-linejoin="round" /><path d="M5.95,2.18 L8.93,0.20 L12.50,0.69 L14.48,3.77 L14.09,7.14 L12.90,5.16 L10.52,5.16 L10.12,12.70 L5.95,15.28 L4.96,9.13 Z" fill="#B4171C" stroke="#930C12" stroke-width="0.90" stroke-linejoin="round" /><path d="M10.52,5.16 L12.90,5.16 L14.29,8.13 L13.49,11.71 L11.11,12.50 L10.12,11.51 Z" fill="#F3A2A7" stroke="#930C12" stroke-width="0.90" stroke-linejoin="round" /></g>
<g transform="translate(1246.60,659.20) scale(0.9700)"><path d="M4.17,30.26 L7.34,30.26 L6.85,36.81 L3.77,36.81 Z" fill="#F3A2A7" stroke="#930C12" stroke-width="0.90" stroke-linejoin="round" /><path d="M8.73,30.26 L11.71,30.26 L12.50,36.81 L9.33,36.81 Z" fill="#F3A2A7" stroke="#930C12" stroke-width="0.90" stroke-linejoin="round" /><path d="M4.17,24.31 L11.31,24.31 L11.71,30.65 L3.57,30.65 Z" fill="#B4171C" stroke="#930C12" stroke-width="0.90" stroke-linejoin="round" /><path d="M4.17,14.58 L0.20,20.83 L2.18,22.92 L4.76,19.35 Z" fill="#F3A2A7" stroke="#930C12" stroke-width="0.90" stroke-linejoin="round" /><path d="M11.51,16.37 L15.48,20.83 L14.09,22.92 L11.31,20.34 Z" fill="#F3A2A7" stroke="#930C12" stroke-width="0.90" stroke-linejoin="round" /><path d="M4.76,13.39 L10.12,12.90 L11.71,16.37 L11.31,24.50 L4.17,24.50 L4.17,16.37 Z" fill="#DB3B4B" stroke="#930C12" stroke-width="0.90" stroke-linejoin="round" /><path d="M10.12,13.39 L4.96,20.34" fill="none" stroke="#930C12" stroke-width="1.20" stroke-linejoin="round" /><circle cx="7.64" cy="5.65" r="4.96" fill="#B4171C" stroke="#930C12" stroke-width="0.90"/><path d="M6.55,8.43 L10.12,6.05 L12.10,7.44 L11.71,11.01 L9.52,12.20 L6.94,11.21 Z" fill="#F3A2A7" stroke="#930C12" stroke-width="0.90" stroke-linejoin="round" /></g>
<text x="1598.5" y="23.3" font-size="33" font-weight="bold" stroke="#000" stroke-width="1.1" stroke-linejoin="round">b</text>
<text x="1703.0" y="23.7" font-size="23.5" textLength="450.3" lengthAdjust="spacingAndGlyphs">Preference in favour of sparing characters</text>
<line x1="1750.90" y1="91.40" x2="2136.20" y2="91.40" stroke="#111" stroke-width="2" stroke-dasharray="2 4.07"/>
<rect x="1941" y="79.75" width="143.60" height="21.4" fill="#6D97C8"/>
<line x1="1738.7" y1="91.40" x2="1746" y2="91.40" stroke="#111" stroke-width="2"/>
<text x="1731.4" y="96.8" font-size="23.5" text-anchor="end" textLength="75.9" lengthAdjust="spacingAndGlyphs">Stroller</text>
<line x1="1750.90" y1="122.90" x2="2136.20" y2="122.90" stroke="#111" stroke-width="2" stroke-dasharray="2 4.07"/>
<rect x="1941" y="112.61" width="134.20" height="21.4" fill="#6D97C8"/>
<line x1="1738.7" y1="122.90" x2="1746" y2="122.90" stroke="#111" stroke-width="2"/>
<text x="1731.4" y="126.9" font-size="23.5" text-anchor="end" textLength="37.6" lengthAdjust="spacingAndGlyphs">Girl</text>
<line x1="1750.90" y1="156.20" x2="2136.20" y2="156.20" stroke="#111" stroke-width="2" stroke-dasharray="2 4.07"/>
<rect x="1941" y="145.48" width="129.80" height="21.4" fill="#6D97C8"/>
<line x1="1738.7" y1="156.20" x2="1746" y2="156.20" stroke="#111" stroke-width="2"/>
<text x="1731.4" y="158.7" font-size="23.5" text-anchor="end" textLength="41.6" lengthAdjust="spacingAndGlyphs">Boy</text>
<line x1="1750.90" y1="189.00" x2="2136.20" y2="189.00" stroke="#111" stroke-width="2" stroke-dasharray="2 4.07"/>
<rect x="1941" y="178.35" width="126.50" height="21.4" fill="#6D97C8"/>
<line x1="1738.7" y1="189.00" x2="1746" y2="189.00" stroke="#111" stroke-width="2"/>
<text x="1731.4" y="195.4" font-size="23.5" text-anchor="end" textLength="98.1" lengthAdjust="spacingAndGlyphs">Pregnant</text>
<line x1="1750.90" y1="222.40" x2="2136.20" y2="222.40" stroke="#111" stroke-width="2" stroke-dasharray="2 4.07"/>
<rect x="1941" y="211.21" width="54.70" height="21.4" fill="#6D97C8"/>
<line x1="1738.7" y1="222.40" x2="1746" y2="222.40" stroke="#111" stroke-width="2"/>
<text x="1731.4" y="226.9" font-size="23.5" text-anchor="end" textLength="126.2" lengthAdjust="spacingAndGlyphs">Male doctor</text>
<line x1="1750.90" y1="254.80" x2="2136.20" y2="254.80" stroke="#111" stroke-width="2" stroke-dasharray="2 4.07"/>
<rect x="1941" y="244.08" width="53.00" height="21.4" fill="#6D97C8"/>
<line x1="1738.7" y1="254.80" x2="1746" y2="254.80" stroke="#111" stroke-width="2"/>
<text x="1731.4" y="258.1" font-size="23.5" text-anchor="end" textLength="154.4" lengthAdjust="spacingAndGlyphs">Female doctor</text>
<line x1="1750.90" y1="287.10" x2="2136.20" y2="287.10" stroke="#111" stroke-width="2" stroke-dasharray="2 4.07"/>
<rect x="1941" y="276.94" width="20.00" height="21.4" fill="#6D97C8"/>
<line x1="1738.7" y1="287.10" x2="1746" y2="287.10" stroke="#111" stroke-width="2"/>
<text x="1731.4" y="293.6" font-size="23.5" text-anchor="end" textLength="157.5" lengthAdjust="spacingAndGlyphs">Female athlete</text>
<line x1="1750.90" y1="320.20" x2="2136.20" y2="320.20" stroke="#111" stroke-width="2" stroke-dasharray="2 4.07"/>
<rect x="1941" y="309.81" width="9.40" height="21.4" fill="#6D97C8"/>
<line x1="1738.7" y1="320.20" x2="1746" y2="320.20" stroke="#111" stroke-width="2"/>
<text x="1731.4" y="328.3" font-size="23.5" text-anchor="end" textLength="182.6" lengthAdjust="spacingAndGlyphs">Executive female</text>
<line x1="1750.90" y1="353.80" x2="2136.20" y2="353.80" stroke="#111" stroke-width="2" stroke-dasharray="2 4.07"/>
<rect x="1941" y="342.67" width="8.50" height="21.4" fill="#6D97C8"/>
<line x1="1738.7" y1="353.80" x2="1746" y2="353.80" stroke="#111" stroke-width="2"/>
<text x="1731.4" y="362.2" font-size="23.5" text-anchor="end" textLength="131.4" lengthAdjust="spacingAndGlyphs">Male athlete</text>
<line x1="1750.90" y1="386.40" x2="2136.20" y2="386.40" stroke="#111" stroke-width="2" stroke-dasharray="2 4.07"/>
<rect x="1941" y="375.54" width="4.70" height="21.4" fill="#6D97C8"/>
<line x1="1738.7" y1="386.40" x2="1746" y2="386.40" stroke="#111" stroke-width="2"/>
<text x="1731.4" y="393.1" font-size="23.5" text-anchor="end" textLength="162.5" lengthAdjust="spacingAndGlyphs">Executive male</text>
<line x1="1750.90" y1="418.70" x2="2136.20" y2="418.70" stroke="#111" stroke-width="2" stroke-dasharray="2 4.07"/>
<rect x="1937.10" y="408.40" width="2.30" height="21.4" fill="#B882BB"/>
<line x1="1738.7" y1="418.70" x2="1746" y2="418.70" stroke="#111" stroke-width="2"/>
<text x="1731.4" y="424.6" font-size="23.5" text-anchor="end" textLength="145.4" lengthAdjust="spacingAndGlyphs">Large woman</text>
<line x1="1750.90" y1="452.90" x2="2136.20" y2="452.90" stroke="#111" stroke-width="2" stroke-dasharray="2 4.07"/>
<rect x="1925.70" y="441.27" width="13.70" height="21.4" fill="#B882BB"/>
<line x1="1738.7" y1="452.90" x2="1746" y2="452.90" stroke="#111" stroke-width="2"/>
<text x="1731.4" y="459.3" font-size="23.5" text-anchor="end" textLength="113.7" lengthAdjust="spacingAndGlyphs">Large man</text>
<line x1="1750.90" y1="483.80" x2="2136.20" y2="483.80" stroke="#111" stroke-width="2" stroke-dasharray="2 4.07"/>
<rect x="1920.40" y="474.13" width="19.00" height="21.4" fill="#B882BB"/>
<line x1="1738.7" y1="483.80" x2="1746" y2="483.80" stroke="#111" stroke-width="2"/>
<text x="1731.4" y="490.3" font-size="23.5" text-anchor="end" textLength="106.3" lengthAdjust="spacingAndGlyphs">Homeless</text>
<line x1="1750.90" y1="518.30" x2="2136.20" y2="518.30" stroke="#111" stroke-width="2" stroke-dasharray="2 4.07"/>
<rect x="1911.50" y="507.00" width="27.90" height="21.4" fill="#B882BB"/>
<line x1="1738.7" y1="518.30" x2="1746" y2="518.30" stroke="#111" stroke-width="2"/>
<text x="1731.4" y="525.7" font-size="23.5" text-anchor="end" textLength="90.7" lengthAdjust="spacingAndGlyphs">Old man</text>
<line x1="1750.90" y1="550.00" x2="2136.20" y2="550.00" stroke="#111" stroke-width="2" stroke-dasharray="2 4.07"/>
<rect x="1910.30" y="539.86" width="29.10" height="21.4" fill="#B882BB"/>
<line x1="1738.7" y1="550.00" x2="1746" y2="550.00" stroke="#111" stroke-width="2"/>
<text x="1731.4" y="558.0" font-size="23.5" text-anchor="end" textLength="123.1" lengthAdjust="spacingAndGlyphs">Old woman</text>
<line x1="1750.90" y1="584.50" x2="2136.20" y2="584.50" stroke="#111" stroke-width="2" stroke-dasharray="2 4.07"/>
<rect x="1829.70" y="572.73" width="109.70" height="21.4" fill="#B882BB"/>
<line x1="1738.7" y1="584.50" x2="1746" y2="584.50" stroke="#111" stroke-width="2"/>
<text x="1731.4" y="589.5" font-size="23.5" text-anchor="end" textLength="43.6" lengthAdjust="spacingAndGlyphs">Dog</text>
<line x1="1750.90" y1="616.40" x2="2136.20" y2="616.40" stroke="#111" stroke-width="2" stroke-dasharray="2 4.07"/>
<rect x="1825.00" y="605.59" width="114.40" height="21.4" fill="#B882BB"/>
<line x1="1738.7" y1="616.40" x2="1746" y2="616.40" stroke="#111" stroke-width="2"/>
<text x="1731.4" y="624.3" font-size="23.5" text-anchor="end" textLength="87.8" lengthAdjust="spacingAndGlyphs">Criminal</text>
<line x1="1750.90" y1="650.00" x2="2136.20" y2="650.00" stroke="#111" stroke-width="2" stroke-dasharray="2 4.07"/>
<rect x="1802.00" y="638.46" width="137.40" height="21.4" fill="#B882BB"/>
<line x1="1738.7" y1="650.00" x2="1746" y2="650.00" stroke="#111" stroke-width="2"/>
<text x="1731.4" y="656.7" font-size="23.5" text-anchor="end" textLength="37.1" lengthAdjust="spacingAndGlyphs">Cat</text>
<line x1="1746.2" y1="43.3" x2="1746.2" y2="670.5" stroke="#111" stroke-width="2.1"/>
<line x1="1940.1" y1="68.7" x2="1940.1" y2="687.3" stroke="#000" stroke-width="2.1"/>
<line x1="1763.9" y1="679" x2="1763.9" y2="687.3" stroke="#111" stroke-width="1.6"/>
<line x1="1851.8" y1="679" x2="1851.8" y2="687.3" stroke="#111" stroke-width="1.6"/>
<line x1="2027.4" y1="679" x2="2027.4" y2="687.3" stroke="#111" stroke-width="1.6"/>
<line x1="2115.7" y1="679" x2="2115.7" y2="687.3" stroke="#111" stroke-width="1.6"/>
<text x="1764.3" y="714.7" font-size="23.5" text-anchor="middle">–0.2</text>
<text x="1847.5" y="714.7" font-size="23.5" text-anchor="middle">–0.1</text>
<text x="1943.5" y="714.7" font-size="23.5" text-anchor="middle">No</text>
<text x="1942.7" y="736.2" font-size="23.5" text-anchor="middle" textLength="78.6" lengthAdjust="spacingAndGlyphs">change</text>
<text x="2022.0" y="714.7" font-size="23.5" text-anchor="middle">+0.1</text>
<text x="2109.6" y="714.7" font-size="23.5" text-anchor="middle">+0.2</text>
<rect x="1760" y="75.9" width="14" height="24" fill="#fff"/>
<g transform="translate(1756.30,71.90) scale(0.5150)"><circle cx="18.33" cy="21.57" r="4.07" fill="#F3A2A7" stroke="#B4171C" stroke-width="0.85"/><path d="M17.78,26.02 L21.30,26.94 L25.56,26.39 L26.11,28.80 L24.44,30.28 L25.56,34.17 L20.00,34.54 L17.78,30.09 Z" fill="#DB3B4B" stroke="#B4171C" stroke-width="0.77" stroke-linejoin="round" /><path d="M24.07,33.80 L28.15,34.54 L32.04,35.46 L31.48,38.98 L27.78,39.17 L23.70,36.76 Z" fill="#F3A2A7" stroke="#B4171C" stroke-width="0.77" stroke-linejoin="round" /><path d="M 8.52,5.28 C 13.52,8.80 15.37,16.20 16.30,25.46 C 17.22,31.57 21.85,35.28 30.19,38.98 L 28.15,43.98 C 19.07,42.69 13.15,37.69 12.04,30.09 C 11.30,22.69 10.93,13.43 8.52,7.87 Z" fill="#1F55A2" stroke="#1F55A2" stroke-width="0.51" stroke-linejoin="round" /><path d="M0.56,1.20 L8.70,6.02 L9.26,51.39" fill="none" stroke="#1F55A2" stroke-width="2.12" stroke-linejoin="round" stroke-linecap="round" stroke-linejoin="round"/><path d="M28.89,40.28 L36.30,54.17" fill="none" stroke="#1F55A2" stroke-width="2.12" stroke-linejoin="round" /><path d="M9.44,48.24 L28.89,44.35" fill="none" stroke="#1F55A2" stroke-width="1.78" stroke-linejoin="round" /><circle cx="8.89" cy="56.20" r="3.52" fill="#FFFFFF" stroke="#1F55A2" stroke-width="3.06"/><circle cx="35.74" cy="56.20" r="3.52" fill="#FFFFFF" stroke="#1F55A2" stroke-width="3.06"/></g>
<rect x="1760" y="110.0" width="14" height="24" fill="#fff"/>
<g transform="translate(1757.90,106.00) scale(1.0000)"><path d="M4.72,21.76 L7.87,21.76 L7.50,27.13 L4.91,27.13 Z" fill="#F3A2A7" stroke="#930C12" stroke-width="0.75" stroke-linejoin="round" /><path d="M8.80,21.76 L11.94,21.76 L11.76,27.13 L9.17,27.13 Z" fill="#F3A2A7" stroke="#930C12" stroke-width="0.75" stroke-linejoin="round" /><path d="M6.02,12.13 L3.80,15.83 L5.09,17.13 L6.94,14.91 Z" fill="#F3A2A7" stroke="#930C12" stroke-width="0.75" stroke-linejoin="round" /><path d="M11.20,12.13 L14.17,15.83 L13.06,17.13 L11.02,15.28 Z" fill="#F3A2A7" stroke="#930C12" stroke-width="0.75" stroke-linejoin="round" /><path d="M6.39,11.20 L11.02,11.20 L11.94,16.20 L12.31,21.76 L3.43,21.76 L5.09,16.20 Z" fill="#DB3B4B" stroke="#930C12" stroke-width="0.75" stroke-linejoin="round" /><path d="M6.02,1.39 L2.31,1.20 L0.65,5.09 L1.39,7.87 L0.09,9.35 L3.24,8.80 L4.54,6.02 Z" fill="#B4171C" stroke="#930C12" stroke-width="0.75" stroke-linejoin="round" /><circle cx="8.98" cy="4.17" r="3.89" fill="#B4171C" stroke="#930C12" stroke-width="0.75"/><path d="M7.87,6.02 L11.20,3.61 L12.69,5.09 L12.50,7.87 L10.65,9.35 L8.43,8.61 Z" fill="#F3A2A7" stroke="#930C12" stroke-width="0.75" stroke-linejoin="round" /></g>
<rect x="1760" y="143.4" width="14" height="24" fill="#fff"/>
<g transform="translate(1759.70,139.40) scale(0.7150)"><path d="M4.17,30.26 L7.34,30.26 L6.85,36.81 L3.77,36.81 Z" fill="#F3A2A7" stroke="#930C12" stroke-width="1.53" stroke-linejoin="round" /><path d="M8.73,30.26 L11.71,30.26 L12.50,36.81 L9.33,36.81 Z" fill="#F3A2A7" stroke="#930C12" stroke-width="1.53" stroke-linejoin="round" /><path d="M4.17,24.31 L11.31,24.31 L11.71,30.65 L3.57,30.65 Z" fill="#B4171C" stroke="#930C12" stroke-width="1.53" stroke-linejoin="round" /><path d="M4.17,14.58 L0.20,20.83 L2.18,22.92 L4.76,19.35 Z" fill="#F3A2A7" stroke="#930C12" stroke-width="1.53" stroke-linejoin="round" /><path d="M11.51,16.37 L15.48,20.83 L14.09,22.92 L11.31,20.34 Z" fill="#F3A2A7" stroke="#930C12" stroke-width="1.53" stroke-linejoin="round" /><path d="M4.76,13.39 L10.12,12.90 L11.71,16.37 L11.31,24.50 L4.17,24.50 L4.17,16.37 Z" fill="#DB3B4B" stroke="#930C12" stroke-width="1.53" stroke-linejoin="round" /><path d="M10.12,13.39 L4.96,20.34" fill="none" stroke="#930C12" stroke-width="2.04" stroke-linejoin="round" /><circle cx="7.64" cy="5.65" r="4.96" fill="#B4171C" stroke="#930C12" stroke-width="1.53"/><path d="M6.55,8.43 L10.12,6.05 L12.10,7.44 L11.71,11.01 L9.52,12.20 L6.94,11.21 Z" fill="#F3A2A7" stroke="#930C12" stroke-width="1.53" stroke-linejoin="round" /></g>
<rect x="1760" y="173.2" width="14" height="24" fill="#fff"/>
<g transform="translate(1761.60,169.20) scale(1.0000)"><path d="M2.31,25.46 L5.46,25.46 L3.24,32.13 L0.83,32.13 Z" fill="#F3A2A7" stroke="#930C12" stroke-width="0.75" stroke-linejoin="round" /><path d="M6.57,25.46 L9.91,25.46 L10.28,32.13 L7.87,32.13 Z" fill="#F3A2A7" stroke="#930C12" stroke-width="0.75" stroke-linejoin="round" /><path d="M3.24,8.80 L7.50,8.06 L9.35,11.57 L11.02,15.28 L10.65,19.91 L9.91,25.65 L1.94,25.65 L2.31,18.98 L1.57,14.35 Z" fill="#DB3B4B" stroke="#930C12" stroke-width="0.75" stroke-linejoin="round" /><path d="M3.06,9.35 L0.65,14.35 L0.83,16.20 L2.31,15.83 L3.80,12.50 Z" fill="#F3A2A7" stroke="#930C12" stroke-width="0.75" stroke-linejoin="round" /><path d="M10.28,12.13 L12.13,13.06 L11.94,14.72 L10.46,14.91 Z" fill="#F3A2A7" stroke="#930C12" stroke-width="0.75" stroke-linejoin="round" /><path d="M3.24,1.39 L5.09,0.09 L7.50,0.46 L8.24,2.31 L6.57,2.87 L6.20,7.87 L3.24,8.80 L2.69,5.09 Z" fill="#B4171C" stroke="#930C12" stroke-width="0.75" stroke-linejoin="round" /><path d="M6.57,2.87 L8.24,2.31 L8.61,5.09 L7.87,7.50 L6.20,7.87 Z" fill="#F3A2A7" stroke="#930C12" stroke-width="0.75" stroke-linejoin="round" /></g>
<rect x="1760" y="207.9" width="14" height="24" fill="#fff"/>
<g transform="translate(1760.50,203.90) scale(0.5450)"><path d="M6.15,31.55 L12.30,31.55 L6.55,59.52 L5.16,60.71 L2.38,60.12 L1.79,58.13 Z" fill="#B4171C" stroke="#930C12" stroke-width="1.53" stroke-linejoin="round" /><path d="M9.33,31.55 L14.58,31.25 L15.67,45.63 L17.16,58.53 L16.37,60.62 L13.49,60.62 L12.70,49.60 L10.52,39.68 Z" fill="#B4171C" stroke="#930C12" stroke-width="1.53" stroke-linejoin="round" /><path d="M8.33,13.10 L13.59,12.50 L14.68,16.07 L14.68,30.95 L6.15,31.35 L5.95,22.82 Z" fill="#C8272F" stroke="#930C12" stroke-width="1.53" stroke-linejoin="round" /><path d="M8.33,13.10 L4.96,16.07 L1.59,22.02 L0.20,32.54 L1.39,33.73 L3.57,33.33 L5.95,22.82 L9.13,16.07 Z" fill="#C8272F" stroke="#930C12" stroke-width="1.53" stroke-linejoin="round" /><path d="M0.20,32.14 L1.59,33.73 L3.57,33.33 L3.77,31.55 L0.79,30.95 Z" fill="#F3A2A7" stroke="#930C12" stroke-width="1.53" stroke-linejoin="round" /><path d="M14.68,23.61 L19.64,27.18 L19.44,29.76 L17.06,30.36 L14.68,27.98 Z" fill="#C8272F" stroke="#930C12" stroke-width="1.53" stroke-linejoin="round" /><path d="M9.13,10.32 L13.10,10.32 L13.69,12.90 L8.13,13.29 Z" fill="#B4171C" stroke="#930C12" stroke-width="0.85" stroke-linejoin="round" /><path d="M6.55,2.48 L8.33,1.29 L12.90,1.29 L14.29,0.00 L14.68,3.17 L14.29,4.96 L10.52,4.96 L9.92,9.92 L7.34,9.13 L6.05,4.96 Z" fill="#B4171C" stroke="#930C12" stroke-width="1.53" stroke-linejoin="round" /><path d="M10.52,4.96 L14.29,4.76 L14.48,9.52 L12.90,10.91 L9.92,10.71 L9.92,9.92 Z" fill="#F3A2A7" stroke="#930C12" stroke-width="1.53" stroke-linejoin="round" /><path d="M-2.00,35.50 L9.00,35.50 L9.00,46.50 L-2.00,46.50 Z" fill="#DB3B4B" stroke="#930C12" stroke-width="1.70" stroke-linejoin="round" /><path d="M2.30,37.50 L4.70,37.50 L4.70,44.50 L2.30,44.50 Z" fill="#FFFFFF" stroke="none" stroke-linejoin="round" /><path d="M0.00,39.80 L7.00,39.80 L7.00,42.20 L0.00,42.20 Z" fill="#FFFFFF" stroke="none" stroke-linejoin="round" /></g>
<rect x="1760" y="241.5" width="14" height="24" fill="#fff"/>
<g transform="translate(1761.50,237.50) scale(0.5300)"><path d="M3.47,49.01 L7.54,49.01 L4.56,60.71 L1.19,61.31 L0.79,59.72 Z" fill="#C8272F" stroke="#930C12" stroke-width="1.53" stroke-linejoin="round" /><path d="M10.52,49.01 L14.88,49.01 L17.46,60.71 L14.68,61.51 L12.90,56.75 Z" fill="#C8272F" stroke="#930C12" stroke-width="1.53" stroke-linejoin="round" /><path d="M5.95,30.95 L13.89,30.56 L18.45,48.81 L0.20,48.81 Z" fill="#B4171C" stroke="#930C12" stroke-width="1.53" stroke-linejoin="round" /><path d="M5.95,15.28 L9.92,13.49 L13.49,13.89 L15.08,17.26 L13.69,23.02 L13.89,30.56 L5.95,30.95 L5.36,24.01 Z" fill="#C8272F" stroke="#930C12" stroke-width="1.53" stroke-linejoin="round" /><path d="M5.95,15.58 L2.38,20.04 L0.40,29.56 L3.17,31.15 L5.56,24.01 L7.54,19.05 Z" fill="#C8272F" stroke="#930C12" stroke-width="1.53" stroke-linejoin="round" /><path d="M1.59,24.01 L0.40,29.56 L3.17,31.15 L5.16,25.00 Z" fill="#C8272F" stroke="#930C12" stroke-width="1.53" stroke-linejoin="round" /><path d="M13.69,22.82 L18.06,26.98 L17.46,29.56 L14.88,29.17 L13.49,26.19 Z" fill="#C8272F" stroke="#930C12" stroke-width="1.53" stroke-linejoin="round" /><path d="M5.95,2.18 L8.93,0.20 L12.50,0.69 L14.48,3.77 L14.09,7.14 L12.90,5.16 L10.52,5.16 L10.12,12.70 L5.95,15.28 L4.96,9.13 Z" fill="#B4171C" stroke="#930C12" stroke-width="1.53" stroke-linejoin="round" /><path d="M10.52,5.16 L12.90,5.16 L14.29,8.13 L13.49,11.71 L11.11,12.50 L10.12,11.51 Z" fill="#F3A2A7" stroke="#930C12" stroke-width="1.53" stroke-linejoin="round" /><path d="M-3.00,35.50 L8.00,35.50 L8.00,46.50 L-3.00,46.50 Z" fill="#DB3B4B" stroke="#930C12" stroke-width="1.70" stroke-linejoin="round" /><path d="M1.30,37.50 L3.70,37.50 L3.70,44.50 L1.30,44.50 Z" fill="#FFFFFF" stroke="none" stroke-linejoin="round" /><path d="M-1.00,39.80 L6.00,39.80 L6.00,42.20 L-1.00,42.20 Z" fill="#FFFFFF" stroke="none" stroke-linejoin="round" /></g>
<rect x="1760" y="276.4" width="14" height="24" fill="#fff"/>
<g transform="translate(1760.80,272.40) scale(0.5250)"><path d="M5.09,39.26 L9.35,38.89 L5.65,59.26 L1.57,60.19 L1.02,58.33 Z" fill="#F3A2A7" stroke="#930C12" stroke-width="1.53" stroke-linejoin="round" /><path d="M9.17,38.89 L13.43,37.96 L14.54,58.33 L13.61,60.19 L10.65,59.44 L10.28,47.22 Z" fill="#F3A2A7" stroke="#930C12" stroke-width="1.53" stroke-linejoin="round" /><path d="M6.48,31.02 L12.13,31.02 L13.61,37.96 L5.09,39.44 Z" fill="#B4171C" stroke="#930C12" stroke-width="1.53" stroke-linejoin="round" /><path d="M6.94,28.15 L12.04,28.15 L12.13,31.11 L6.57,31.11 Z" fill="#F3A2A7" stroke="#930C12" stroke-width="1.53" stroke-linejoin="round" /><path d="M6.57,14.44 L11.94,13.52 L15.83,17.59 L13.43,23.15 L12.13,28.33 L6.94,28.33 L6.94,23.15 Z" fill="#DB3B4B" stroke="#930C12" stroke-width="1.53" stroke-linejoin="round" /><path d="M6.57,14.44 L1.94,17.59 L5.65,25.19 L7.50,23.15 L4.72,18.52 L8.80,16.30 Z" fill="#F3A2A7" stroke="#930C12" stroke-width="1.53" stroke-linejoin="round" /><path d="M15.83,17.41 L19.35,16.85 L21.76,16.85 L21.94,18.70 L20.83,20.00 L15.28,22.78 L13.80,21.30 Z" fill="#F3A2A7" stroke="#930C12" stroke-width="1.53" stroke-linejoin="round" /><path d="M8.80,11.85 L11.57,12.41 L11.94,13.89 L8.06,14.26 Z" fill="#F3A2A7" stroke="#930C12" stroke-width="0.85" stroke-linejoin="round" /><path d="M6.02,1.85 L2.31,1.85 L1.02,5.56 L1.94,9.26 L0.09,10.74 L3.80,10.19 L4.72,5.56 Z" fill="#B4171C" stroke="#930C12" stroke-width="1.53" stroke-linejoin="round" /><path d="M5.65,2.41 L9.72,0.46 L13.43,1.85 L14.54,4.63 L6.02,7.04 Z" fill="#B4171C" stroke="#930C12" stroke-width="1.53" stroke-linejoin="round" /><path d="M6.57,6.67 L14.54,4.63 L13.61,9.26 L11.20,12.59 L8.43,11.30 Z" fill="#F3A2A7" stroke="#930C12" stroke-width="1.53" stroke-linejoin="round" /></g>
<rect x="1760" y="310.0" width="14" height="24" fill="#fff"/>
<g transform="translate(1761.50,306.00) scale(0.5250)"><path d="M3.47,49.01 L7.54,49.01 L4.56,60.71 L1.19,61.31 L0.79,59.72 Z" fill="#F3A2A7" stroke="#930C12" stroke-width="1.53" stroke-linejoin="round" /><path d="M10.52,49.01 L14.88,49.01 L17.46,60.71 L14.68,61.51 L12.90,56.75 Z" fill="#F3A2A7" stroke="#930C12" stroke-width="1.53" stroke-linejoin="round" /><path d="M5.95,30.95 L13.89,30.56 L18.45,48.81 L0.20,48.81 Z" fill="#B4171C" stroke="#930C12" stroke-width="1.53" stroke-linejoin="round" /><path d="M5.95,15.28 L9.92,13.49 L13.49,13.89 L15.08,17.26 L13.69,23.02 L13.89,30.56 L5.95,30.95 L5.36,24.01 Z" fill="#DB3B4B" stroke="#930C12" stroke-width="1.53" stroke-linejoin="round" /><path d="M5.95,15.58 L2.38,20.04 L0.40,29.56 L3.17,31.15 L5.56,24.01 L7.54,19.05 Z" fill="#DB3B4B" stroke="#930C12" stroke-width="1.53" stroke-linejoin="round" /><path d="M1.59,24.01 L0.40,29.56 L3.17,31.15 L5.16,25.00 Z" fill="#F3A2A7" stroke="#930C12" stroke-width="1.53" stroke-linejoin="round" /><path d="M13.69,22.82 L18.06,26.98 L17.46,29.56 L14.88,29.17 L13.49,26.19 Z" fill="#F3A2A7" stroke="#930C12" stroke-width="1.53" stroke-linejoin="round" /><path d="M5.95,2.18 L8.93,0.20 L12.50,0.69 L14.48,3.77 L14.09,7.14 L12.90,5.16 L10.52,5.16 L10.12,12.70 L5.95,15.28 L4.96,9.13 Z" fill="#B4171C" stroke="#930C12" stroke-width="1.53" stroke-linejoin="round" /><path d="M10.52,5.16 L12.90,5.16 L14.29,8.13 L13.49,11.71 L11.11,12.50 L10.12,11.51 Z" fill="#F3A2A7" stroke="#930C12" stroke-width="1.53" stroke-linejoin="round" /><path d="M1.00,38.00 L1.00,34.00 L7.00,34.00 L7.00,38.00" fill="none" stroke="#930C12" stroke-width="2.04" stroke-linejoin="round" /><path d="M-5.00,38.00 L10.00,38.00 L10.00,49.00 L-5.00,49.00 Z" fill="#DB3B4B" stroke="#930C12" stroke-width="1.70" stroke-linejoin="round" /></g>
<rect x="1760" y="342.0" width="14" height="24" fill="#fff"/>
<g transform="translate(1761.80,338.00) scale(0.5350)"><path d="M5.09,39.26 L9.35,38.89 L5.65,59.26 L1.57,60.19 L1.02,58.33 Z" fill="#F3A2A7" stroke="#930C12" stroke-width="1.53" stroke-linejoin="round" /><path d="M9.17,38.89 L13.43,37.96 L14.54,58.33 L13.61,60.19 L10.65,59.44 L10.28,47.22 Z" fill="#F3A2A7" stroke="#930C12" stroke-width="1.53" stroke-linejoin="round" /><path d="M6.02,29.63 L12.50,29.63 L13.80,38.89 L4.91,39.81 Z" fill="#B4171C" stroke="#930C12" stroke-width="1.53" stroke-linejoin="round" /><path d="M6.57,14.44 L11.94,13.52 L15.83,17.59 L13.80,23.15 L12.50,29.81 L6.39,29.81 L6.57,23.15 Z" fill="#DB3B4B" stroke="#930C12" stroke-width="1.53" stroke-linejoin="round" /><path d="M6.57,14.44 L1.94,17.59 L5.65,25.19 L7.50,23.15 L4.72,18.52 L8.80,16.30 Z" fill="#F3A2A7" stroke="#930C12" stroke-width="1.53" stroke-linejoin="round" /><path d="M15.83,17.41 L19.35,16.85 L21.76,16.85 L21.94,18.70 L20.83,20.00 L15.28,22.78 L13.80,21.30 Z" fill="#F3A2A7" stroke="#930C12" stroke-width="1.53" stroke-linejoin="round" /><path d="M8.80,11.85 L11.57,12.41 L11.94,13.89 L8.06,14.26 Z" fill="#F3A2A7" stroke="#930C12" stroke-width="0.85" stroke-linejoin="round" /><path d="M5.28,3.70 L6.94,1.48 L11.57,0.74 L14.35,0.00 L14.72,4.63 L10.65,6.11 L9.72,9.26 L6.57,8.33 Z" fill="#B4171C" stroke="#930C12" stroke-width="1.53" stroke-linejoin="round" /><path d="M10.65,6.11 L14.72,4.63 L14.35,9.26 L11.57,12.59 L8.80,11.67 L9.72,9.26 Z" fill="#F3A2A7" stroke="#930C12" stroke-width="1.53" stroke-linejoin="round" /></g>
<rect x="1760" y="375.3" width="14" height="24" fill="#fff"/>
<g transform="translate(1757.50,371.30) scale(0.5100)"><path d="M13.89,33.80 L18.70,33.80 L12.22,59.81 L8.89,60.74 L8.15,58.89 L11.11,48.15 Z" fill="#B4171C" stroke="#930C12" stroke-width="1.53" stroke-linejoin="round" /><path d="M15.74,33.80 L20.93,33.33 L21.85,40.74 L24.26,59.26 L23.33,61.20 L20.00,60.74 L17.22,50.00 Z" fill="#B4171C" stroke="#930C12" stroke-width="1.53" stroke-linejoin="round" /><path d="M13.89,12.96 L18.52,12.04 L21.48,14.44 L21.85,25.00 L20.56,33.52 L13.89,33.98 L12.96,25.00 Z" fill="#DB3B4B" stroke="#930C12" stroke-width="1.53" stroke-linejoin="round" /><path d="M18.52,12.22 L21.48,14.44 L20.93,18.70 Z" fill="#B4171C" stroke="#930C12" stroke-width="0.85" stroke-linejoin="round" /><path d="M13.89,13.52 L8.89,22.22 L7.96,31.11 L11.11,32.50 L12.96,25.00 L15.93,18.52 Z" fill="#DB3B4B" stroke="#930C12" stroke-width="1.53" stroke-linejoin="round" /><path d="M21.85,24.07 L26.94,27.31 L26.48,30.19 L23.15,30.65 L21.30,28.33 Z" fill="#DB3B4B" stroke="#930C12" stroke-width="1.53" stroke-linejoin="round" /><path d="M12.96,2.78 L15.74,0.93 L20.37,1.39 L21.85,0.00 L21.85,4.63 L19.63,6.48 L15.93,7.41 L15.00,11.30 L12.59,9.26 Z" fill="#B4171C" stroke="#930C12" stroke-width="1.53" stroke-linejoin="round" /><path d="M15.93,7.41 L20.93,6.48 L20.74,10.74 L18.70,12.22 L15.37,11.30 Z" fill="#F3A2A7" stroke="#930C12" stroke-width="1.53" stroke-linejoin="round" /><path d="M16.30,7.96 L20.93,7.22 L20.93,8.70 L16.48,9.26 Z" fill="#B4171C" stroke="#930C12" stroke-width="0.51" stroke-linejoin="round" /><path d="M6.11,36.11 L6.11,32.59 L11.67,32.59 L11.67,36.11" fill="none" stroke="#930C12" stroke-width="2.21" stroke-linejoin="round" /><path d="M7.04,33.33 L10.37,33.33 L10.37,35.74 L7.04,35.74 Z" fill="#F3A2A7" stroke="#930C12" stroke-width="0.85" stroke-linejoin="round" /><path d="M0.46,36.11 L16.30,36.11 L16.30,47.96 L0.46,47.96 Z" fill="#DB3B4B" stroke="#930C12" stroke-width="1.87" stroke-linejoin="round" /></g>
<rect x="1760" y="407.4" width="14" height="24" fill="#fff"/>
<g transform="translate(1759.50,403.40) scale(0.5150)"><path d="M2.15,49.01 L7.11,49.01 L4.56,60.71 L1.19,61.31 L0.79,59.72 Z" fill="#F3A2A7" stroke="#930C12" stroke-width="1.53" stroke-linejoin="round" /><path d="M10.74,49.01 L16.06,49.01 L17.46,60.71 L14.68,61.51 L12.90,56.75 Z" fill="#F3A2A7" stroke="#930C12" stroke-width="1.53" stroke-linejoin="round" /><path d="M5.17,30.95 L14.85,30.56 L20.42,48.81 L-1.85,48.81 Z" fill="#B4171C" stroke="#930C12" stroke-width="1.53" stroke-linejoin="round" /><path d="M5.17,15.28 L10.01,13.49 L14.37,13.89 L16.31,17.26 L14.61,23.02 L14.85,30.56 L5.17,30.95 L4.45,24.01 Z" fill="#DB3B4B" stroke="#930C12" stroke-width="1.53" stroke-linejoin="round" /><path d="M5.17,15.58 L0.81,20.04 L-1.61,29.56 L1.78,31.15 L4.69,24.01 L7.11,19.05 Z" fill="#DB3B4B" stroke="#930C12" stroke-width="1.53" stroke-linejoin="round" /><path d="M-0.15,24.01 L-1.61,29.56 L1.78,31.15 L4.20,25.00 Z" fill="#F3A2A7" stroke="#930C12" stroke-width="1.53" stroke-linejoin="round" /><path d="M14.61,22.82 L19.94,26.98 L19.21,29.56 L16.06,29.17 L14.37,26.19 Z" fill="#F3A2A7" stroke="#930C12" stroke-width="1.53" stroke-linejoin="round" /><path d="M5.95,2.18 L8.93,0.20 L12.50,0.69 L14.48,3.77 L14.09,7.14 L12.90,5.16 L10.52,5.16 L10.12,12.70 L5.17,15.28 L4.96,9.13 Z" fill="#B4171C" stroke="#930C12" stroke-width="1.53" stroke-linejoin="round" /><path d="M10.52,5.16 L12.90,5.16 L14.29,8.13 L13.49,11.71 L11.11,12.50 L10.12,11.51 Z" fill="#F3A2A7" stroke="#930C12" stroke-width="1.53" stroke-linejoin="round" /></g>
<rect x="1760" y="440.2" width="14" height="24" fill="#fff"/>
<g transform="translate(1759.80,436.20) scale(0.5050)"><path d="M6.02,31.20 L13.89,31.20 L7.59,59.72 L6.48,60.46 L3.33,60.28 L2.04,58.80 L4.26,43.06 Z" fill="#B4171C" stroke="#930C12" stroke-width="1.53" stroke-linejoin="round" /><path d="M7.59,31.20 L16.20,31.02 L17.78,38.43 L20.56,58.80 L19.63,60.65 L15.37,60.28 L11.48,49.54 Z" fill="#B4171C" stroke="#930C12" stroke-width="1.53" stroke-linejoin="round" /><path d="M8.33,11.76 L13.89,11.39 L16.85,14.54 L19.07,22.69 L18.70,28.24 L15.93,31.20 L6.48,31.20 L6.02,25.46 L6.94,18.98 Z" fill="#DB3B4B" stroke="#930C12" stroke-width="1.53" stroke-linejoin="round" /><path d="M8.33,11.76 L2.78,19.91 L0.37,30.65 L3.15,32.13 L4.81,31.20 L6.48,22.69 L10.37,17.13 Z" fill="#DB3B4B" stroke="#930C12" stroke-width="1.53" stroke-linejoin="round" /><path d="M0.56,29.91 L3.15,32.13 L5.00,31.20 L4.81,29.35 Z" fill="#F3A2A7" stroke="#930C12" stroke-width="1.53" stroke-linejoin="round" /><path d="M18.98,25.28 L22.78,27.31 L22.41,30.09 L19.07,30.65 Z" fill="#DB3B4B" stroke="#930C12" stroke-width="1.53" stroke-linejoin="round" /><path d="M7.87,1.85 L9.72,0.93 L13.89,0.93 L15.37,0.00 L15.37,3.80 L13.89,5.09 L11.11,5.65 L10.19,9.72 L7.59,7.87 L6.94,4.17 Z" fill="#B4171C" stroke="#930C12" stroke-width="1.53" stroke-linejoin="round" /><path d="M11.11,5.65 L13.89,5.09 L15.00,8.80 L13.15,10.83 L10.19,10.83 L10.19,9.72 Z" fill="#F3A2A7" stroke="#930C12" stroke-width="1.53" stroke-linejoin="round" /></g>
<rect x="1760" y="471.5" width="14" height="24" fill="#fff"/>
<g transform="translate(1760.80,467.50) scale(0.5350)"><path d="M5.37,39.44 L10.19,38.70 L6.67,59.26 L2.22,59.81 L1.30,58.33 Z" fill="#DB3B4B" stroke="#930C12" stroke-width="1.53" stroke-linejoin="round" /><path d="M9.07,39.44 L14.26,40.56 L17.59,58.33 L16.67,60.28 L13.33,59.44 Z" fill="#DB3B4B" stroke="#930C12" stroke-width="1.53" stroke-linejoin="round" /><path d="M10.00,5.74 L16.11,5.37 L15.93,9.26 L13.89,11.30 L10.56,10.37 Z" fill="#B4171C" stroke="#930C12" stroke-width="1.53" stroke-linejoin="round" /><path d="M9.54,1.48 L11.85,0.19 L15.56,0.46 L17.50,2.41 L17.96,5.19 L10.00,5.83 L8.89,4.63 Z" fill="#DB3B4B" stroke="#930C12" stroke-width="1.53" stroke-linejoin="round" /><path d="M7.22,11.67 L13.70,11.11 L15.19,15.74 L17.96,21.30 L17.96,24.63 L15.56,25.56 L15.19,31.48 L14.26,40.74 L10.00,39.07 L5.37,40.00 L0.74,40.00 L0.19,31.48 L1.67,20.37 L4.07,14.44 Z" fill="#B4171C" stroke="#930C12" stroke-width="1.53" stroke-linejoin="round" /><path d="M10.00,22.22 L12.78,21.30 L12.41,24.07" fill="none" stroke="#930C12" stroke-width="1.36" stroke-linejoin="round" /><path d="M3.70,31.48 L5.37,31.85 L4.26,33.70 Z" fill="#F3A2A7" stroke="#930C12" stroke-width="0.85" stroke-linejoin="round" /></g>
<rect x="1760" y="505.7" width="14" height="24" fill="#fff"/>
<g transform="translate(1759.80,501.70) scale(0.5350)"><path d="M5.28,32.41 L11.57,32.41 L8.80,58.80 L3.24,58.80 L2.78,56.94 Z" fill="#B4171C" stroke="#930C12" stroke-width="1.53" stroke-linejoin="round" /><path d="M8.80,32.41 L15.83,31.94 L16.76,58.80 L11.57,58.80 Z" fill="#B4171C" stroke="#930C12" stroke-width="1.53" stroke-linejoin="round" /><path d="M7.87,13.43 L13.43,13.43 L16.76,16.20 L18.98,22.69 L23.80,26.94 L19.17,28.80 L15.83,26.39 L15.83,32.13 L5.09,32.50 L6.02,23.61 Z" fill="#DB3B4B" stroke="#930C12" stroke-width="1.53" stroke-linejoin="round" /><path d="M7.87,13.43 L1.39,21.39 L1.02,31.94 L3.80,32.96 L5.65,31.94 L6.02,23.61 L10.83,18.06 Z" fill="#DB3B4B" stroke="#930C12" stroke-width="1.53" stroke-linejoin="round" /><path d="M14.54,8.98 L19.17,7.87 L19.54,12.50 L17.13,15.83 L13.43,13.61 Z" fill="#F3A2A7" stroke="#930C12" stroke-width="1.53" stroke-linejoin="round" /><path d="M10.65,5.09 L13.43,1.39 L17.59,1.39 L19.91,4.17 L19.54,7.87 L14.54,8.98 L13.61,12.69 L11.20,9.72 Z" fill="#FFFFFF" stroke="#930C12" stroke-width="1.70" stroke-linejoin="round" /><path d="M18.98,28.06 L25.65,27.31" fill="none" stroke="#7A1216" stroke-width="3.23" stroke-linejoin="round" /><path d="M24.54,27.31 L24.72,59.72" fill="none" stroke="#7A1216" stroke-width="3.23" stroke-linejoin="round" /></g>
<rect x="1760" y="540.4" width="14" height="24" fill="#fff"/>
<g transform="translate(1759.80,536.40) scale(0.5150)"><path d="M1.94,52.78 L7.50,52.78 L6.57,58.80 L2.87,58.80 Z" fill="#F3A2A7" stroke="#930C12" stroke-width="1.53" stroke-linejoin="round" /><path d="M10.65,52.78 L16.20,52.78 L15.83,58.80 L11.57,58.80 Z" fill="#F3A2A7" stroke="#930C12" stroke-width="1.53" stroke-linejoin="round" /><path d="M5.09,32.41 L15.83,31.94 L17.69,52.87 L0.00,52.87 Z" fill="#B4171C" stroke="#930C12" stroke-width="1.53" stroke-linejoin="round" /><path d="M7.87,13.43 L13.43,13.43 L16.76,16.20 L18.98,22.69 L23.80,26.94 L19.17,28.80 L15.83,26.39 L15.83,32.13 L5.09,32.50 L6.02,23.61 Z" fill="#DB3B4B" stroke="#930C12" stroke-width="1.53" stroke-linejoin="round" /><path d="M7.87,13.43 L1.39,21.39 L1.02,31.94 L3.80,32.96 L5.65,31.94 L6.02,23.61 L10.83,18.06 Z" fill="#DB3B4B" stroke="#930C12" stroke-width="1.53" stroke-linejoin="round" /><path d="M1.20,31.20 L3.80,32.96 L5.65,31.94 L5.28,30.46 Z" fill="#F3A2A7" stroke="#930C12" stroke-width="1.53" stroke-linejoin="round" /><path d="M11.57,6.20 L14.35,3.43 L18.06,4.17 L19.54,7.87 L14.54,8.98 L13.61,12.69 Z" fill="#E2677A" stroke="#930C12" stroke-width="1.53" stroke-linejoin="round" /><path d="M14.54,8.98 L19.17,7.87 L19.54,12.50 L17.13,15.83 L13.43,13.61 Z" fill="#F3A2A7" stroke="#930C12" stroke-width="1.53" stroke-linejoin="round" /><circle cx="10.65" cy="3.24" r="2.78" fill="#FFFFFF" stroke="#930C12" stroke-width="1.70"/><path d="M18.98,28.06 L25.65,27.31" fill="none" stroke="#7A1216" stroke-width="3.23" stroke-linejoin="round" /><path d="M24.54,27.31 L24.72,59.72" fill="none" stroke="#7A1216" stroke-width="3.23" stroke-linejoin="round" /></g>
<g transform="translate(1749.90,571.10) scale(0.6250)"><path d="M 17.45,24.00 L 24.00,27.64 C 21.82,31.27 20.73,33.45 21.09,34.76 L 25.60,40.15 L 25.31,42.18 L 22.11,42.33 L 16.15,35.05 C 17.82,31.27 17.45,27.64 16.73,24.73 Z" fill="#B4171C" stroke="#930C12" stroke-width="1.53" stroke-linejoin="round" /><path d="M 32.00,29.09 L 37.09,30.11 C 35.64,34.18 34.18,37.09 32.00,38.55 L 27.49,40.44 L 26.91,42.33 L 25.60,41.45 L 26.91,38.98 C 30.55,37.09 32.36,34.18 32.58,31.27 Z" fill="#B4171C" stroke="#930C12" stroke-width="1.53" stroke-linejoin="round" /><path d="M 10.04,0.15 C 6.40,4.36 6.25,11.05 11.78,14.84 C 14.55,16.44 16.73,14.40 21.82,14.25 C 26.91,15.27 33.45,15.64 42.91,13.67 C 44.73,10.55 46.91,8.73 50.18,9.16 C 53.09,9.82 54.55,11.27 56.00,12.80 L 59.64,14.69 C 60.36,16.73 58.55,18.55 56.73,18.62 L 52.51,18.18 C 50.18,18.91 48.15,21.67 46.69,26.18 L 44.65,29.67 L 53.53,40.73 L 53.09,42.62 L 50.18,42.62 L 43.64,34.62 L 39.27,30.25 C 34.91,29.82 27.64,28.51 23.27,27.64 L 17.31,24.15 C 16.73,26.91 15.27,30.55 13.67,31.42 L 7.27,35.64 L 3.64,41.60 L 1.02,42.33 L 0.00,40.44 L 5.09,31.27 L 8.87,28.51 C 9.09,24.00 10.91,19.64 13.53,16.44 C 9.89,13.96 8.87,7.27 10.62,0.58 Z" fill="#DB3B4B" stroke="#930C12" stroke-width="1.87" stroke-linejoin="round" /><path d="M 46.55,10.55 C 45.09,13.09 45.82,16.00 48.73,16.73 C 50.55,15.27 50.91,12.36 50.18,10.55" fill="none" stroke="#930C12" stroke-width="1.36" stroke-linejoin="round" /></g>
<rect x="1760" y="608.9" width="14" height="24" fill="#fff"/>
<g transform="translate(1756.00,604.90) scale(1.0000)"><path d="M7.26,17.02 L10.83,16.31 L5.36,30.83 L1.31,31.79 L0.60,30.36 Z" fill="#B4171C" stroke="#930C12" stroke-width="0.75" stroke-linejoin="round" /><path d="M8.93,16.31 L12.50,17.50 L16.79,28.21 L15.12,29.88 L12.50,28.69 L9.40,20.83 Z" fill="#B4171C" stroke="#930C12" stroke-width="0.75" stroke-linejoin="round" /><path d="M7.74,6.07 L12.02,6.55 L12.50,17.26 L6.79,17.26 Z" fill="#DB3B4B" stroke="#930C12" stroke-width="0.75" stroke-linejoin="round" /><path d="M7.74,6.55 L1.79,10.83 L0.36,12.74 L1.79,13.69 L8.45,9.64 Z" fill="#DB3B4B" stroke="#930C12" stroke-width="0.75" stroke-linejoin="round" /><path d="M12.02,7.26 L15.12,11.31 L13.69,12.74 L11.55,10.60 Z" fill="#DB3B4B" stroke="#930C12" stroke-width="0.75" stroke-linejoin="round" /><path d="M8.45,1.79 L12.02,1.31 L12.50,5.36 L10.36,6.79 L8.45,5.60 Z" fill="#F3A2A7" stroke="#930C12" stroke-width="0.75" stroke-linejoin="round" /><path d="M7.26,1.79 L9.17,0.12 L12.26,0.36 L12.98,2.74 L8.21,3.21 Z" fill="#DB3B4B" stroke="#930C12" stroke-width="0.75" stroke-linejoin="round" /><path d="M 15.12,9.64 L 16.31,12.26 C 19.64,13.69 19.17,17.98 15.83,18.21 C 12.02,17.98 12.02,13.69 14.40,12.26 L 13.69,9.88 Z" fill="#F3A2A7" stroke="#930C12" stroke-width="0.90" stroke-linejoin="round" /></g>
<g transform="translate(1749.50,636.20) scale(1.0000)"><path d="M 12.62,16.90 L 17.38,17.62 L 15.71,21.90 L 17.62,25.71 L 14.05,25.95 L 11.43,21.43 Z" fill="#B4171C" stroke="#930C12" stroke-width="0.75" stroke-linejoin="round" /><path d="M 21.19,17.62 L 25.71,17.62 L 23.81,21.90 L 23.33,25.71 L 20.24,25.71 L 19.76,21.67 Z" fill="#B4171C" stroke="#930C12" stroke-width="0.75" stroke-linejoin="round" /><path d="M 0.24,0.48 C 3.81,0.71 5.00,4.29 7.38,8.10 L 9.76,9.29 C 16.67,10.00 22.62,10.24 28.81,8.33 L 31.67,5.00 L 33.10,6.90 L 35.00,5.24 L 35.71,9.52 L 37.14,11.67 L 35.71,13.81 L 32.14,14.52 L 29.52,16.43 L 34.52,24.05 L 32.86,25.95 L 30.24,25.24 L 25.24,17.86 L 21.43,17.86 L 13.10,17.14 L 10.00,18.10 L 5.24,24.29 L 1.90,25.48 L 0.48,23.57 L 4.52,18.10 L 5.71,12.86 C 3.57,8.10 2.38,3.81 -0.24,1.90 Z" fill="#DB3B4B" stroke="#930C12" stroke-width="1.05" stroke-linejoin="round" /></g></svg>
</body></html>
